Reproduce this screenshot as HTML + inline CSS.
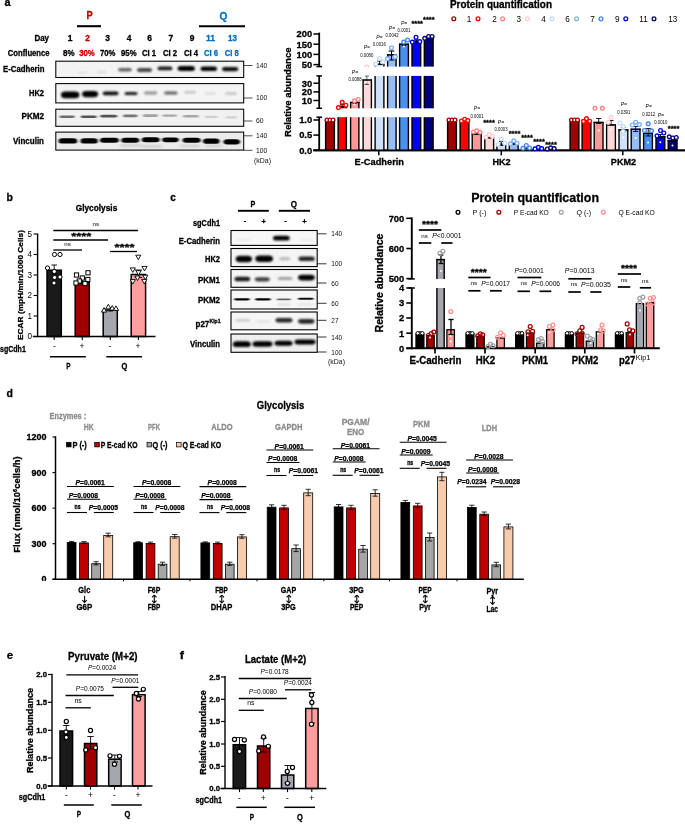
<!DOCTYPE html>
<html><head><meta charset="utf-8"><title>Figure</title>
<style>
html,body{margin:0;padding:0;background:#fff;}
body{width:685px;height:828px;overflow:hidden;font-family:"Liberation Sans",sans-serif;}
svg{display:block;font-family:"Liberation Sans",sans-serif;will-change:transform;}
</style></head><body>
<svg width="685" height="828" viewBox="0 0 685 828">
<defs>
<filter id="b1" x="-30%" y="-100%" width="160%" height="300%"><feGaussianBlur stdDeviation="1.3 0.8"/></filter>
<filter id="b2" x="-30%" y="-100%" width="160%" height="300%"><feGaussianBlur stdDeviation="0.9 0.45"/></filter>
<filter id="b3" x="-30%" y="-100%" width="160%" height="300%"><feGaussianBlur stdDeviation="1.4 1.0"/></filter>
<filter id="b4" x="-30%" y="-100%" width="160%" height="300%"><feGaussianBlur stdDeviation="1.0 0.6"/></filter>
</defs>
<rect x="0" y="0" width="685" height="828" fill="#ffffff"/>
<g id="panel-a">
<text x="4.4" y="6.2" font-size="11.5" text-anchor="start" fill="#000" font-weight="bold" stroke="#000" stroke-width="0.3" textLength="6" lengthAdjust="spacingAndGlyphs">a</text>
<text x="89.5" y="19.4" font-size="10.2" text-anchor="middle" fill="#c00000" font-weight="bold" stroke="#c00000" stroke-width="0.3" textLength="6.2" lengthAdjust="spacingAndGlyphs">P</text>
<line x1="77" y1="26.2" x2="101" y2="26.2" stroke="#000" stroke-width="2.1"/>
<text x="223.3" y="19.6" font-size="10.2" text-anchor="middle" fill="#0070c0" font-weight="bold" stroke="#0070c0" stroke-width="0.3" textLength="7.8" lengthAdjust="spacingAndGlyphs">Q</text>
<line x1="199" y1="26.2" x2="245" y2="26.2" stroke="#000" stroke-width="2.1"/>
<text x="49" y="40.6" font-size="8.8" text-anchor="end" fill="#000" font-weight="bold" stroke="#000" stroke-width="0.3" textLength="14.6" lengthAdjust="spacingAndGlyphs">Day</text>
<text x="70" y="40.6" font-size="8.4" text-anchor="middle" fill="#000" font-weight="bold" stroke="#000" stroke-width="0.3" textLength="4.7" lengthAdjust="spacingAndGlyphs">1</text>
<text x="87.5" y="40.6" font-size="8.4" text-anchor="middle" fill="#c00000" font-weight="bold" stroke="#c00000" stroke-width="0.3" textLength="4.7" lengthAdjust="spacingAndGlyphs">2</text>
<text x="107.5" y="40.6" font-size="8.4" text-anchor="middle" fill="#000" font-weight="bold" stroke="#000" stroke-width="0.3" textLength="4.7" lengthAdjust="spacingAndGlyphs">3</text>
<text x="129" y="40.6" font-size="8.4" text-anchor="middle" fill="#000" font-weight="bold" stroke="#000" stroke-width="0.3" textLength="4.7" lengthAdjust="spacingAndGlyphs">4</text>
<text x="149.5" y="40.6" font-size="8.4" text-anchor="middle" fill="#000" font-weight="bold" stroke="#000" stroke-width="0.3" textLength="4.7" lengthAdjust="spacingAndGlyphs">6</text>
<text x="170.8" y="40.6" font-size="8.4" text-anchor="middle" fill="#000" font-weight="bold" stroke="#000" stroke-width="0.3" textLength="4.7" lengthAdjust="spacingAndGlyphs">7</text>
<text x="192" y="40.6" font-size="8.4" text-anchor="middle" fill="#000" font-weight="bold" stroke="#000" stroke-width="0.3" textLength="4.7" lengthAdjust="spacingAndGlyphs">9</text>
<text x="210.5" y="40.6" font-size="8.4" text-anchor="middle" fill="#0070c0" font-weight="bold" stroke="#0070c0" stroke-width="0.3" textLength="9" lengthAdjust="spacingAndGlyphs">11</text>
<text x="232.5" y="40.6" font-size="8.4" text-anchor="middle" fill="#0070c0" font-weight="bold" stroke="#0070c0" stroke-width="0.3" textLength="9" lengthAdjust="spacingAndGlyphs">13</text>
<text x="49.6" y="56.1" font-size="8.8" text-anchor="end" fill="#000" font-weight="bold" stroke="#000" stroke-width="0.3" textLength="41.8" lengthAdjust="spacingAndGlyphs">Confluence</text>
<text x="68.8" y="56.1" font-size="8.4" text-anchor="middle" fill="#000" font-weight="bold" stroke="#000" stroke-width="0.3" textLength="11.5" lengthAdjust="spacingAndGlyphs">8%</text>
<text x="87" y="56.1" font-size="8.4" text-anchor="middle" fill="#c00000" font-weight="bold" stroke="#c00000" stroke-width="0.3" textLength="15.5" lengthAdjust="spacingAndGlyphs">30%</text>
<text x="107.7" y="56.1" font-size="8.4" text-anchor="middle" fill="#000" font-weight="bold" stroke="#000" stroke-width="0.3" textLength="15.5" lengthAdjust="spacingAndGlyphs">70%</text>
<text x="128.8" y="56.1" font-size="8.4" text-anchor="middle" fill="#000" font-weight="bold" stroke="#000" stroke-width="0.3" textLength="15.5" lengthAdjust="spacingAndGlyphs">95%</text>
<text x="149" y="56.1" font-size="8.4" text-anchor="middle" fill="#000" font-weight="bold" stroke="#000" stroke-width="0.3" textLength="14.2" lengthAdjust="spacingAndGlyphs">CI 1</text>
<text x="170" y="56.1" font-size="8.4" text-anchor="middle" fill="#000" font-weight="bold" stroke="#000" stroke-width="0.3" textLength="14.2" lengthAdjust="spacingAndGlyphs">CI 2</text>
<text x="191" y="56.1" font-size="8.4" text-anchor="middle" fill="#000" font-weight="bold" stroke="#000" stroke-width="0.3" textLength="14.2" lengthAdjust="spacingAndGlyphs">CI 4</text>
<text x="211" y="56.1" font-size="8.4" text-anchor="middle" fill="#0070c0" font-weight="bold" stroke="#0070c0" stroke-width="0.3" textLength="14.2" lengthAdjust="spacingAndGlyphs">CI 6</text>
<text x="231.8" y="56.1" font-size="8.4" text-anchor="middle" fill="#0070c0" font-weight="bold" stroke="#0070c0" stroke-width="0.3" textLength="14.2" lengthAdjust="spacingAndGlyphs">CI 8</text>
<rect x="55.8" y="61.2" width="187.9" height="16.3" fill="#f3f3f3"/>
<rect x="55.8" y="83.6" width="187.9" height="19.3" fill="#f4f4f4"/>
<rect x="55.8" y="109.2" width="187.9" height="17.1" fill="#f1f1f1"/>
<rect x="55.8" y="132.1" width="187.9" height="18" fill="#ebebeb"/>
<rect x="78" y="71.5" width="10" height="2.2" fill="#000" rx="1.54" ry="1.1" opacity="0.07" filter="url(#b1)"/>
<rect x="97" y="70.9" width="10" height="2.2" fill="#000" rx="1.54" ry="1.1" opacity="0.1" filter="url(#b1)"/>
<rect x="118" y="68.1" width="14" height="3.4" fill="#000" rx="2.38" ry="1.7" opacity="0.6" filter="url(#b1)"/>
<rect x="137" y="67.9" width="15" height="4.2" fill="#000" rx="2.94" ry="2.1" opacity="0.72" filter="url(#b1)"/>
<rect x="157.5" y="66.5" width="15" height="3.8" fill="#000" rx="2.66" ry="1.9" opacity="0.9" filter="url(#b1)"/>
<rect x="177.5" y="66.1" width="17.5" height="5" fill="#000" rx="3.5" ry="2.5" opacity="1" filter="url(#b1)"/>
<rect x="200.5" y="66.5" width="16.5" height="4.6" fill="#000" rx="3.22" ry="2.3" opacity="1" filter="url(#b1)"/>
<rect x="222" y="67" width="16.3" height="4.2" fill="#000" rx="2.94" ry="2.1" opacity="0.95" filter="url(#b1)"/>
<rect x="61" y="91.6" width="18.4" height="6.6" fill="#000" rx="4.62" ry="3.3" opacity="1" filter="url(#b1)"/>
<rect x="82" y="91" width="16.2" height="6.2" fill="#000" rx="4.34" ry="3.1" opacity="1" filter="url(#b1)"/>
<rect x="102.6" y="91.6" width="16" height="3.6" fill="#000" rx="2.52" ry="1.8" opacity="0.95" filter="url(#b1)"/>
<rect x="124.5" y="91.9" width="13.1" height="3" fill="#000" rx="2.1" ry="1.5" opacity="0.9" filter="url(#b1)"/>
<rect x="144" y="91.6" width="13.4" height="2.8" fill="#000" rx="1.96" ry="1.4" opacity="0.4" filter="url(#b1)"/>
<rect x="164" y="91.5" width="13.6" height="3" fill="#000" rx="2.1" ry="1.5" opacity="0.6" filter="url(#b1)"/>
<rect x="184.3" y="91.1" width="11.7" height="2.4" fill="#000" rx="1.68" ry="1.2" opacity="0.2" filter="url(#b1)"/>
<rect x="204.7" y="92.4" width="11.1" height="2.2" fill="#000" rx="1.54" ry="1.1" opacity="0.12" filter="url(#b1)"/>
<rect x="225.2" y="92.3" width="11.8" height="2.4" fill="#000" rx="1.68" ry="1.2" opacity="0.2" filter="url(#b1)"/>
<rect x="59.5" y="115.6" width="15.3" height="2.4" fill="#000" rx="1.68" ry="1.2" opacity="0.55" filter="url(#b2)"/>
<rect x="80.7" y="115.5" width="16" height="2.6" fill="#000" rx="1.82" ry="1.3" opacity="0.65" filter="url(#b2)"/>
<rect x="100.2" y="114.8" width="17" height="2.8" fill="#000" rx="1.96" ry="1.4" opacity="0.65" filter="url(#b2)"/>
<rect x="123" y="114.6" width="14.6" height="2.6" fill="#000" rx="1.82" ry="1.3" opacity="0.5" filter="url(#b2)"/>
<rect x="142.8" y="114.3" width="15.2" height="2.6" fill="#000" rx="1.82" ry="1.3" opacity="0.33" filter="url(#b2)"/>
<rect x="162.4" y="114.4" width="14.6" height="2.4" fill="#000" rx="1.68" ry="1.2" opacity="0.3" filter="url(#b2)"/>
<rect x="182.8" y="114.9" width="16.2" height="2.6" fill="#000" rx="1.82" ry="1.3" opacity="0.3" filter="url(#b2)"/>
<rect x="204.7" y="115.7" width="13.3" height="2.2" fill="#000" rx="1.54" ry="1.1" opacity="0.14" filter="url(#b2)"/>
<rect x="225.2" y="116.2" width="11.8" height="2.2" fill="#000" rx="1.54" ry="1.1" opacity="0.12" filter="url(#b2)"/>
<rect x="58.6" y="138.3" width="18.6" height="5.2" fill="#000" rx="3.64" ry="2.6" opacity="1" filter="url(#b4)"/>
<rect x="80.5" y="138.3" width="17.3" height="5.2" fill="#000" rx="3.64" ry="2.6" opacity="1" filter="url(#b4)"/>
<rect x="100" y="137.8" width="18.8" height="5" fill="#000" rx="3.5" ry="2.5" opacity="1" filter="url(#b4)"/>
<rect x="121.3" y="137.8" width="17.9" height="5" fill="#000" rx="3.5" ry="2.5" opacity="1" filter="url(#b4)"/>
<rect x="141.8" y="137.3" width="17.9" height="5" fill="#000" rx="3.5" ry="2.5" opacity="1" filter="url(#b4)"/>
<rect x="162.2" y="137.4" width="16.5" height="4.8" fill="#000" rx="3.36" ry="2.4" opacity="1" filter="url(#b4)"/>
<rect x="182.6" y="137.8" width="18" height="5" fill="#000" rx="3.5" ry="2.5" opacity="1" filter="url(#b4)"/>
<rect x="203.1" y="138.6" width="16.4" height="5.2" fill="#000" rx="3.64" ry="2.6" opacity="1" filter="url(#b4)"/>
<rect x="223.5" y="139.2" width="16.5" height="5.2" fill="#000" rx="3.64" ry="2.6" opacity="1" filter="url(#b4)"/>
<rect x="120" y="144.25" width="22" height="2.5" fill="#000" rx="1.75" ry="1.25" opacity="0.12" filter="url(#b3)"/>
<rect x="141" y="145.25" width="21" height="2.5" fill="#000" rx="1.75" ry="1.25" opacity="0.12" filter="url(#b3)"/>
<rect x="180" y="144.75" width="20" height="2.5" fill="#000" rx="1.75" ry="1.25" opacity="0.12" filter="url(#b3)"/>
<rect x="205" y="144.75" width="17" height="2.5" fill="#000" rx="1.75" ry="1.25" opacity="0.12" filter="url(#b3)"/>
<rect x="55.8" y="61.2" width="187.9" height="16.3" fill="none" stroke="#000" stroke-width="1.05"/>
<rect x="55.8" y="83.6" width="187.9" height="19.3" fill="none" stroke="#000" stroke-width="1.05"/>
<rect x="55.8" y="109.2" width="187.9" height="17.1" fill="none" stroke="#000" stroke-width="1.05"/>
<rect x="55.8" y="132.1" width="187.9" height="18" fill="none" stroke="#000" stroke-width="1.05"/>
<text x="44.5" y="72.2" font-size="8.8" text-anchor="end" fill="#000" font-weight="bold" stroke="#000" stroke-width="0.3" textLength="41.5" lengthAdjust="spacingAndGlyphs">E-Cadherin</text>
<text x="44" y="95.8" font-size="8.6" text-anchor="end" fill="#000" font-weight="bold" stroke="#000" stroke-width="0.3" textLength="15" lengthAdjust="spacingAndGlyphs">HK2</text>
<text x="44" y="119.3" font-size="8.6" text-anchor="end" fill="#000" font-weight="bold" stroke="#000" stroke-width="0.3" textLength="22.5" lengthAdjust="spacingAndGlyphs">PKM2</text>
<text x="44" y="144.2" font-size="8.8" text-anchor="end" fill="#000" font-weight="bold" stroke="#000" stroke-width="0.3" textLength="31" lengthAdjust="spacingAndGlyphs">Vinculin</text>
<line x1="243.7" y1="65.5" x2="252.5" y2="65.5" stroke="#222" stroke-width="0.8"/>
<text x="256" y="67.9" font-size="6.7" text-anchor="start" fill="#111" textLength="11.3" lengthAdjust="spacingAndGlyphs">140</text>
<line x1="243.7" y1="98" x2="252.5" y2="98" stroke="#222" stroke-width="0.8"/>
<text x="256" y="100.4" font-size="6.7" text-anchor="start" fill="#111" textLength="11.3" lengthAdjust="spacingAndGlyphs">100</text>
<line x1="243.7" y1="121" x2="252.5" y2="121" stroke="#222" stroke-width="0.8"/>
<text x="256" y="123.4" font-size="6.7" text-anchor="start" fill="#111" textLength="7.6" lengthAdjust="spacingAndGlyphs">60</text>
<line x1="243.7" y1="135.8" x2="252.5" y2="135.8" stroke="#222" stroke-width="0.8"/>
<text x="256" y="138.2" font-size="6.7" text-anchor="start" fill="#111" textLength="11.3" lengthAdjust="spacingAndGlyphs">140</text>
<line x1="243.7" y1="150.3" x2="252.5" y2="150.3" stroke="#222" stroke-width="0.8"/>
<text x="256" y="152.7" font-size="6.7" text-anchor="start" fill="#111" textLength="11.3" lengthAdjust="spacingAndGlyphs">100</text>
<text x="254" y="162.8" font-size="6.7" text-anchor="start" fill="#111" textLength="17" lengthAdjust="spacingAndGlyphs">(kDa)</text>
</g>
<g id="chart-a">
<text x="450" y="8.3" font-size="10" text-anchor="start" fill="#000" font-weight="bold" stroke="#000" stroke-width="0.3" textLength="102" lengthAdjust="spacingAndGlyphs">Protein quantification</text>
<circle cx="453.8" cy="18.8" r="1.9" fill="none" stroke="#a00000" stroke-width="1.3"/>
<text x="469" y="21.8" font-size="8.2" text-anchor="middle" fill="#000">1</text>
<circle cx="478" cy="18.8" r="1.9" fill="none" stroke="#ff0000" stroke-width="1.3"/>
<text x="494.5" y="21.8" font-size="8.2" text-anchor="middle" fill="#000">2</text>
<circle cx="502.6" cy="18.8" r="1.9" fill="none" stroke="#ff8080" stroke-width="1.3"/>
<text x="518.8" y="21.8" font-size="8.2" text-anchor="middle" fill="#000">3</text>
<circle cx="527.4" cy="18.8" r="1.9" fill="none" stroke="#ffcccc" stroke-width="1.3"/>
<text x="543.6" y="21.8" font-size="8.2" text-anchor="middle" fill="#000">4</text>
<circle cx="552" cy="18.8" r="1.9" fill="none" stroke="#c4daf8" stroke-width="1.3"/>
<text x="567.6" y="21.8" font-size="8.2" text-anchor="middle" fill="#000">6</text>
<circle cx="576.6" cy="18.8" r="1.9" fill="none" stroke="#7fb0f5" stroke-width="1.3"/>
<text x="592.6" y="21.8" font-size="8.2" text-anchor="middle" fill="#000">7</text>
<circle cx="601" cy="18.8" r="1.9" fill="none" stroke="#3d88ee" stroke-width="1.3"/>
<text x="617.3" y="21.8" font-size="8.2" text-anchor="middle" fill="#000">9</text>
<circle cx="625.8" cy="18.8" r="1.9" fill="none" stroke="#0000e0" stroke-width="1.3"/>
<text x="643.5" y="21.8" font-size="8.2" text-anchor="middle" fill="#000">11</text>
<circle cx="654" cy="18.8" r="1.9" fill="none" stroke="#000080" stroke-width="1.3"/>
<text x="672.8" y="21.8" font-size="8.2" text-anchor="middle" fill="#000">13</text>
<line x1="319.2" y1="32.6" x2="319.2" y2="66.6" stroke="#000" stroke-width="1.8"/>
<line x1="319.2" y1="75.9" x2="319.2" y2="108.3" stroke="#000" stroke-width="1.8"/>
<line x1="319.2" y1="117.2" x2="319.2" y2="150.3" stroke="#000" stroke-width="1.8"/>
<line x1="316.4" y1="66.6" x2="322" y2="66.6" stroke="#000" stroke-width="1.5"/>
<line x1="316.4" y1="75.9" x2="322" y2="75.9" stroke="#000" stroke-width="1.5"/>
<line x1="316.4" y1="108.3" x2="322" y2="108.3" stroke="#000" stroke-width="1.5"/>
<line x1="316.4" y1="117.2" x2="322" y2="117.2" stroke="#000" stroke-width="1.5"/>
<line x1="313.4" y1="34" x2="319.2" y2="34" stroke="#000" stroke-width="1.5"/>
<text x="312.2" y="37.3" font-size="9.4" text-anchor="end" fill="#000" font-weight="bold" stroke="#000" stroke-width="0.3">200</text>
<line x1="313.4" y1="44.2" x2="319.2" y2="44.2" stroke="#000" stroke-width="1.5"/>
<text x="312.2" y="47.5" font-size="9.4" text-anchor="end" fill="#000" font-weight="bold" stroke="#000" stroke-width="0.3">150</text>
<line x1="313.4" y1="54.4" x2="319.2" y2="54.4" stroke="#000" stroke-width="1.5"/>
<text x="312.2" y="57.7" font-size="9.4" text-anchor="end" fill="#000" font-weight="bold" stroke="#000" stroke-width="0.3">100</text>
<line x1="313.4" y1="64.6" x2="319.2" y2="64.6" stroke="#000" stroke-width="1.5"/>
<text x="312.2" y="67.9" font-size="9.4" text-anchor="end" fill="#000" font-weight="bold" stroke="#000" stroke-width="0.3">50</text>
<line x1="313.4" y1="83.2" x2="319.2" y2="83.2" stroke="#000" stroke-width="1.5"/>
<text x="312.2" y="86.5" font-size="9.4" text-anchor="end" fill="#000" font-weight="bold" stroke="#000" stroke-width="0.3">30</text>
<line x1="313.4" y1="91.9" x2="319.2" y2="91.9" stroke="#000" stroke-width="1.5"/>
<text x="312.2" y="95.2" font-size="9.4" text-anchor="end" fill="#000" font-weight="bold" stroke="#000" stroke-width="0.3">20</text>
<line x1="313.4" y1="100.5" x2="319.2" y2="100.5" stroke="#000" stroke-width="1.5"/>
<text x="312.2" y="103.8" font-size="9.4" text-anchor="end" fill="#000" font-weight="bold" stroke="#000" stroke-width="0.3">10</text>
<line x1="313.4" y1="120" x2="319.2" y2="120" stroke="#000" stroke-width="1.5"/>
<text x="312.2" y="123.3" font-size="9.4" text-anchor="end" fill="#000" font-weight="bold" stroke="#000" stroke-width="0.3">1.0</text>
<line x1="313.4" y1="135.1" x2="319.2" y2="135.1" stroke="#000" stroke-width="1.5"/>
<text x="312.2" y="138.4" font-size="9.4" text-anchor="end" fill="#000" font-weight="bold" stroke="#000" stroke-width="0.3">0.5</text>
<line x1="313.4" y1="150.3" x2="319.2" y2="150.3" stroke="#000" stroke-width="1.5"/>
<text x="312.2" y="153.6" font-size="9.4" text-anchor="end" fill="#000" font-weight="bold" stroke="#000" stroke-width="0.3">0.0</text>
<line x1="313.4" y1="150.3" x2="685" y2="150.3" stroke="#000" stroke-width="1.8"/>
<text x="291.2" y="92.2" font-size="9.9" text-anchor="middle" fill="#000" font-weight="bold" stroke="#000" stroke-width="0.3" textLength="89.5" lengthAdjust="spacingAndGlyphs" transform="rotate(-90 291.2 92.2)">Relative abundance</text>
<rect x="325.5" y="120" width="9" height="30.3" fill="#a00000"/>
<line x1="325.6" y1="120" x2="325.6" y2="150.3" stroke="#000" stroke-width="1.4"/>
<line x1="334.4" y1="120" x2="334.4" y2="150.3" stroke="#000" stroke-width="1.4"/>
<line x1="325" y1="120.4" x2="335" y2="120.4" stroke="#000" stroke-width="1.5"/>
<rect x="338" y="117.2" width="8.5" height="33.1" fill="#ff0000"/>
<line x1="338.1" y1="117.2" x2="338.1" y2="150.3" stroke="#000" stroke-width="1.4"/>
<line x1="346.4" y1="117.2" x2="346.4" y2="150.3" stroke="#000" stroke-width="1.4"/>
<rect x="338" y="106" width="8.5" height="2.3" fill="#ff0000"/>
<line x1="338.1" y1="106" x2="338.1" y2="108.3" stroke="#000" stroke-width="1.4"/>
<line x1="346.4" y1="106" x2="346.4" y2="108.3" stroke="#000" stroke-width="1.4"/>
<line x1="337.5" y1="106.4" x2="347" y2="106.4" stroke="#000" stroke-width="1.5"/>
<rect x="350.5" y="117.2" width="8.5" height="33.1" fill="#ff9999"/>
<line x1="350.6" y1="117.2" x2="350.6" y2="150.3" stroke="#000" stroke-width="1.4"/>
<line x1="358.9" y1="117.2" x2="358.9" y2="150.3" stroke="#000" stroke-width="1.4"/>
<rect x="350.5" y="102" width="8.5" height="6.3" fill="#ff9999"/>
<line x1="350.6" y1="102" x2="350.6" y2="108.3" stroke="#000" stroke-width="1.4"/>
<line x1="358.9" y1="102" x2="358.9" y2="108.3" stroke="#000" stroke-width="1.4"/>
<line x1="350" y1="102.4" x2="359.5" y2="102.4" stroke="#000" stroke-width="1.5"/>
<rect x="363" y="117.2" width="8.5" height="33.1" fill="#ffd9d9"/>
<line x1="363.1" y1="117.2" x2="363.1" y2="150.3" stroke="#000" stroke-width="1.4"/>
<line x1="371.4" y1="117.2" x2="371.4" y2="150.3" stroke="#000" stroke-width="1.4"/>
<rect x="363" y="79.6" width="8.5" height="28.7" fill="#ffd9d9"/>
<line x1="363.1" y1="79.6" x2="363.1" y2="108.3" stroke="#000" stroke-width="1.4"/>
<line x1="371.4" y1="79.6" x2="371.4" y2="108.3" stroke="#000" stroke-width="1.4"/>
<line x1="362.5" y1="80" x2="372" y2="80" stroke="#000" stroke-width="1.5"/>
<rect x="375" y="117.2" width="9" height="33.1" fill="#cfe0fb"/>
<line x1="375.1" y1="117.2" x2="375.1" y2="150.3" stroke="#000" stroke-width="1.4"/>
<line x1="383.9" y1="117.2" x2="383.9" y2="150.3" stroke="#000" stroke-width="1.4"/>
<rect x="375" y="75.9" width="9" height="32.4" fill="#cfe0fb"/>
<line x1="375.1" y1="75.9" x2="375.1" y2="108.3" stroke="#000" stroke-width="1.4"/>
<line x1="383.9" y1="75.9" x2="383.9" y2="108.3" stroke="#000" stroke-width="1.4"/>
<rect x="375" y="63.8" width="9" height="2.8" fill="#cfe0fb"/>
<line x1="375.1" y1="63.8" x2="375.1" y2="66.6" stroke="#000" stroke-width="1.4"/>
<line x1="383.9" y1="63.8" x2="383.9" y2="66.6" stroke="#000" stroke-width="1.4"/>
<line x1="374.5" y1="64.2" x2="384.5" y2="64.2" stroke="#000" stroke-width="1.5"/>
<rect x="387.5" y="117.2" width="8.7" height="33.1" fill="#96bdf8"/>
<line x1="387.6" y1="117.2" x2="387.6" y2="150.3" stroke="#000" stroke-width="1.4"/>
<line x1="396.1" y1="117.2" x2="396.1" y2="150.3" stroke="#000" stroke-width="1.4"/>
<rect x="387.5" y="75.9" width="8.7" height="32.4" fill="#96bdf8"/>
<line x1="387.6" y1="75.9" x2="387.6" y2="108.3" stroke="#000" stroke-width="1.4"/>
<line x1="396.1" y1="75.9" x2="396.1" y2="108.3" stroke="#000" stroke-width="1.4"/>
<rect x="387.5" y="54.5" width="8.7" height="12.1" fill="#96bdf8"/>
<line x1="387.6" y1="54.5" x2="387.6" y2="66.6" stroke="#000" stroke-width="1.4"/>
<line x1="396.1" y1="54.5" x2="396.1" y2="66.6" stroke="#000" stroke-width="1.4"/>
<line x1="387" y1="54.9" x2="396.7" y2="54.9" stroke="#000" stroke-width="1.5"/>
<rect x="399.5" y="117.2" width="9" height="33.1" fill="#4a90f0"/>
<line x1="399.6" y1="117.2" x2="399.6" y2="150.3" stroke="#000" stroke-width="1.4"/>
<line x1="408.4" y1="117.2" x2="408.4" y2="150.3" stroke="#000" stroke-width="1.4"/>
<rect x="399.5" y="75.9" width="9" height="32.4" fill="#4a90f0"/>
<line x1="399.6" y1="75.9" x2="399.6" y2="108.3" stroke="#000" stroke-width="1.4"/>
<line x1="408.4" y1="75.9" x2="408.4" y2="108.3" stroke="#000" stroke-width="1.4"/>
<rect x="399.5" y="43.8" width="9" height="22.8" fill="#4a90f0"/>
<line x1="399.6" y1="43.8" x2="399.6" y2="66.6" stroke="#000" stroke-width="1.4"/>
<line x1="408.4" y1="43.8" x2="408.4" y2="66.6" stroke="#000" stroke-width="1.4"/>
<line x1="399" y1="44.2" x2="409" y2="44.2" stroke="#000" stroke-width="1.5"/>
<rect x="411.9" y="117.2" width="8.9" height="33.1" fill="#0000ff"/>
<line x1="412" y1="117.2" x2="412" y2="150.3" stroke="#000" stroke-width="1.4"/>
<line x1="420.7" y1="117.2" x2="420.7" y2="150.3" stroke="#000" stroke-width="1.4"/>
<rect x="411.9" y="75.9" width="8.9" height="32.4" fill="#0000ff"/>
<line x1="412" y1="75.9" x2="412" y2="108.3" stroke="#000" stroke-width="1.4"/>
<line x1="420.7" y1="75.9" x2="420.7" y2="108.3" stroke="#000" stroke-width="1.4"/>
<rect x="411.9" y="40.8" width="8.9" height="25.8" fill="#0000ff"/>
<line x1="412" y1="40.8" x2="412" y2="66.6" stroke="#000" stroke-width="1.4"/>
<line x1="420.7" y1="40.8" x2="420.7" y2="66.6" stroke="#000" stroke-width="1.4"/>
<line x1="411.4" y1="41.2" x2="421.3" y2="41.2" stroke="#000" stroke-width="1.5"/>
<rect x="424.2" y="117.2" width="9" height="33.1" fill="#00007a"/>
<line x1="424.3" y1="117.2" x2="424.3" y2="150.3" stroke="#000" stroke-width="1.4"/>
<line x1="433.1" y1="117.2" x2="433.1" y2="150.3" stroke="#000" stroke-width="1.4"/>
<rect x="424.2" y="75.9" width="9" height="32.4" fill="#00007a"/>
<line x1="424.3" y1="75.9" x2="424.3" y2="108.3" stroke="#000" stroke-width="1.4"/>
<line x1="433.1" y1="75.9" x2="433.1" y2="108.3" stroke="#000" stroke-width="1.4"/>
<rect x="424.2" y="38" width="9" height="28.6" fill="#00007a"/>
<line x1="424.3" y1="38" x2="424.3" y2="66.6" stroke="#000" stroke-width="1.4"/>
<line x1="433.1" y1="38" x2="433.1" y2="66.6" stroke="#000" stroke-width="1.4"/>
<line x1="423.7" y1="38.4" x2="433.7" y2="38.4" stroke="#000" stroke-width="1.5"/>
<rect x="447.5" y="120" width="9" height="30.3" fill="#a00000"/>
<line x1="447.6" y1="120" x2="447.6" y2="150.3" stroke="#000" stroke-width="1.4"/>
<line x1="456.4" y1="120" x2="456.4" y2="150.3" stroke="#000" stroke-width="1.4"/>
<line x1="447" y1="120.4" x2="457" y2="120.4" stroke="#000" stroke-width="1.5"/>
<rect x="460" y="120" width="9" height="30.3" fill="#ff0000"/>
<line x1="460.1" y1="120" x2="460.1" y2="150.3" stroke="#000" stroke-width="1.4"/>
<line x1="468.9" y1="120" x2="468.9" y2="150.3" stroke="#000" stroke-width="1.4"/>
<line x1="459.5" y1="120.4" x2="469.5" y2="120.4" stroke="#000" stroke-width="1.5"/>
<rect x="472.1" y="133.8" width="9.2" height="16.5" fill="#ff9999"/>
<line x1="472.2" y1="133.8" x2="472.2" y2="150.3" stroke="#000" stroke-width="1.4"/>
<line x1="481.2" y1="133.8" x2="481.2" y2="150.3" stroke="#000" stroke-width="1.4"/>
<line x1="471.6" y1="134.2" x2="481.8" y2="134.2" stroke="#000" stroke-width="1.5"/>
<rect x="484.7" y="137" width="9" height="13.3" fill="#ffd9d9"/>
<line x1="484.8" y1="137" x2="484.8" y2="150.3" stroke="#000" stroke-width="1.4"/>
<line x1="493.6" y1="137" x2="493.6" y2="150.3" stroke="#000" stroke-width="1.4"/>
<line x1="484.2" y1="137.4" x2="494.2" y2="137.4" stroke="#000" stroke-width="1.5"/>
<rect x="496.8" y="143.8" width="9" height="6.5" fill="#cfe0fb"/>
<line x1="496.9" y1="143.8" x2="496.9" y2="150.3" stroke="#000" stroke-width="1.4"/>
<line x1="505.7" y1="143.8" x2="505.7" y2="150.3" stroke="#000" stroke-width="1.4"/>
<line x1="496.3" y1="144.2" x2="506.3" y2="144.2" stroke="#000" stroke-width="1.5"/>
<rect x="509.2" y="143.3" width="9" height="7" fill="#96bdf8"/>
<line x1="509.3" y1="143.3" x2="509.3" y2="150.3" stroke="#000" stroke-width="1.4"/>
<line x1="518.1" y1="143.3" x2="518.1" y2="150.3" stroke="#000" stroke-width="1.4"/>
<line x1="508.7" y1="143.7" x2="518.7" y2="143.7" stroke="#000" stroke-width="1.5"/>
<rect x="521.7" y="147.5" width="9" height="2.8" fill="#4a90f0"/>
<line x1="521.8" y1="147.5" x2="521.8" y2="150.3" stroke="#000" stroke-width="1.4"/>
<line x1="530.6" y1="147.5" x2="530.6" y2="150.3" stroke="#000" stroke-width="1.4"/>
<line x1="521.2" y1="147.9" x2="531.2" y2="147.9" stroke="#000" stroke-width="1.5"/>
<rect x="533.8" y="148.5" width="9" height="1.8" fill="#0000ff"/>
<line x1="533.9" y1="148.5" x2="533.9" y2="150.3" stroke="#000" stroke-width="1.4"/>
<line x1="542.7" y1="148.5" x2="542.7" y2="150.3" stroke="#000" stroke-width="1.4"/>
<line x1="533.3" y1="148.9" x2="543.3" y2="148.9" stroke="#000" stroke-width="1.5"/>
<rect x="546.2" y="148.5" width="9" height="1.8" fill="#00007a"/>
<line x1="546.3" y1="148.5" x2="546.3" y2="150.3" stroke="#000" stroke-width="1.4"/>
<line x1="555.1" y1="148.5" x2="555.1" y2="150.3" stroke="#000" stroke-width="1.4"/>
<line x1="545.7" y1="148.9" x2="555.7" y2="148.9" stroke="#000" stroke-width="1.5"/>
<rect x="570" y="120" width="9" height="30.3" fill="#a00000"/>
<line x1="570.1" y1="120" x2="570.1" y2="150.3" stroke="#000" stroke-width="1.4"/>
<line x1="578.9" y1="120" x2="578.9" y2="150.3" stroke="#000" stroke-width="1.4"/>
<line x1="569.5" y1="120.4" x2="579.5" y2="120.4" stroke="#000" stroke-width="1.5"/>
<rect x="582" y="120" width="9" height="30.3" fill="#ff0000"/>
<line x1="582.1" y1="120" x2="582.1" y2="150.3" stroke="#000" stroke-width="1.4"/>
<line x1="590.9" y1="120" x2="590.9" y2="150.3" stroke="#000" stroke-width="1.4"/>
<line x1="581.5" y1="120.4" x2="591.5" y2="120.4" stroke="#000" stroke-width="1.5"/>
<rect x="594.1" y="122" width="9" height="28.3" fill="#ff9999"/>
<line x1="594.2" y1="122" x2="594.2" y2="150.3" stroke="#000" stroke-width="1.4"/>
<line x1="603" y1="122" x2="603" y2="150.3" stroke="#000" stroke-width="1.4"/>
<line x1="593.6" y1="122.4" x2="603.6" y2="122.4" stroke="#000" stroke-width="1.5"/>
<rect x="606.5" y="124.5" width="9" height="25.8" fill="#ffd9d9"/>
<line x1="606.6" y1="124.5" x2="606.6" y2="150.3" stroke="#000" stroke-width="1.4"/>
<line x1="615.4" y1="124.5" x2="615.4" y2="150.3" stroke="#000" stroke-width="1.4"/>
<line x1="606" y1="124.9" x2="616" y2="124.9" stroke="#000" stroke-width="1.5"/>
<rect x="618.9" y="129.5" width="9" height="20.8" fill="#cfe0fb"/>
<line x1="619" y1="129.5" x2="619" y2="150.3" stroke="#000" stroke-width="1.4"/>
<line x1="627.8" y1="129.5" x2="627.8" y2="150.3" stroke="#000" stroke-width="1.4"/>
<line x1="618.4" y1="129.9" x2="628.4" y2="129.9" stroke="#000" stroke-width="1.5"/>
<rect x="631.1" y="128.8" width="9" height="21.5" fill="#96bdf8"/>
<line x1="631.2" y1="128.8" x2="631.2" y2="150.3" stroke="#000" stroke-width="1.4"/>
<line x1="640" y1="128.8" x2="640" y2="150.3" stroke="#000" stroke-width="1.4"/>
<line x1="630.6" y1="129.2" x2="640.6" y2="129.2" stroke="#000" stroke-width="1.5"/>
<rect x="643.5" y="133" width="9" height="17.3" fill="#4a90f0"/>
<line x1="643.6" y1="133" x2="643.6" y2="150.3" stroke="#000" stroke-width="1.4"/>
<line x1="652.4" y1="133" x2="652.4" y2="150.3" stroke="#000" stroke-width="1.4"/>
<line x1="643" y1="133.4" x2="653" y2="133.4" stroke="#000" stroke-width="1.5"/>
<rect x="655.9" y="136.3" width="9" height="14" fill="#0000ff"/>
<line x1="656" y1="136.3" x2="656" y2="150.3" stroke="#000" stroke-width="1.4"/>
<line x1="664.8" y1="136.3" x2="664.8" y2="150.3" stroke="#000" stroke-width="1.4"/>
<line x1="655.4" y1="136.7" x2="665.4" y2="136.7" stroke="#000" stroke-width="1.5"/>
<rect x="668.1" y="140" width="9" height="10.3" fill="#00007a"/>
<line x1="668.2" y1="140" x2="668.2" y2="150.3" stroke="#000" stroke-width="1.4"/>
<line x1="677" y1="140" x2="677" y2="150.3" stroke="#000" stroke-width="1.4"/>
<line x1="667.6" y1="140.4" x2="677.6" y2="140.4" stroke="#000" stroke-width="1.5"/>
<line x1="313.4" y1="150.3" x2="685" y2="150.3" stroke="#000" stroke-width="1.8"/>
<line x1="378.8" y1="150.3" x2="378.8" y2="155.3" stroke="#000" stroke-width="1.5"/>
<line x1="501.3" y1="150.3" x2="501.3" y2="155.3" stroke="#000" stroke-width="1.5"/>
<line x1="622.8" y1="150.3" x2="622.8" y2="155.3" stroke="#000" stroke-width="1.5"/>
<text x="379.3" y="164.5" font-size="9.6" text-anchor="middle" fill="#000" font-weight="bold" stroke="#000" stroke-width="0.3" textLength="49.4" lengthAdjust="spacingAndGlyphs">E-Cadherin</text>
<text x="501.5" y="164.5" font-size="9.6" text-anchor="middle" fill="#000" font-weight="bold" stroke="#000" stroke-width="0.3" textLength="18.2" lengthAdjust="spacingAndGlyphs">HK2</text>
<text x="623.5" y="164.5" font-size="9.6" text-anchor="middle" fill="#000" font-weight="bold" stroke="#000" stroke-width="0.3" textLength="25.3" lengthAdjust="spacingAndGlyphs">PKM2</text>
<line x1="342.2" y1="104.5" x2="342.2" y2="107.5" stroke="#000" stroke-width="0.9"/>
<line x1="340" y1="104.5" x2="344.4" y2="104.5" stroke="#000" stroke-width="0.9"/>
<line x1="340" y1="107.5" x2="344.4" y2="107.5" stroke="#000" stroke-width="0.9"/>
<line x1="354.7" y1="101" x2="354.7" y2="103.2" stroke="#000" stroke-width="0.9"/>
<line x1="352.5" y1="101" x2="356.9" y2="101" stroke="#000" stroke-width="0.9"/>
<line x1="352.5" y1="103.2" x2="356.9" y2="103.2" stroke="#000" stroke-width="0.9"/>
<line x1="366.8" y1="76" x2="366.8" y2="84.5" stroke="#000" stroke-width="0.6"/>
<line x1="364.6" y1="76" x2="369" y2="76" stroke="#000" stroke-width="0.6"/>
<line x1="364.6" y1="84.5" x2="369" y2="84.5" stroke="#000" stroke-width="0.6"/>
<line x1="379.5" y1="61" x2="379.5" y2="64.5" stroke="#000" stroke-width="0.9"/>
<line x1="377.3" y1="61" x2="381.7" y2="61" stroke="#000" stroke-width="0.9"/>
<line x1="377.3" y1="64.5" x2="381.7" y2="64.5" stroke="#000" stroke-width="0.9"/>
<line x1="391.5" y1="51" x2="391.5" y2="60" stroke="#000" stroke-width="1.1"/>
<line x1="388.7" y1="51" x2="394.3" y2="51" stroke="#000" stroke-width="1.1"/>
<line x1="388.7" y1="60" x2="394.3" y2="60" stroke="#000" stroke-width="1.1"/>
<line x1="404" y1="42" x2="404" y2="45.5" stroke="#000" stroke-width="0.9"/>
<line x1="401.8" y1="42" x2="406.2" y2="42" stroke="#000" stroke-width="0.9"/>
<line x1="401.8" y1="45.5" x2="406.2" y2="45.5" stroke="#000" stroke-width="0.9"/>
<line x1="416.3" y1="39.8" x2="416.3" y2="43" stroke="#000" stroke-width="0.9"/>
<line x1="414.1" y1="39.8" x2="418.5" y2="39.8" stroke="#000" stroke-width="0.9"/>
<line x1="414.1" y1="43" x2="418.5" y2="43" stroke="#000" stroke-width="0.9"/>
<line x1="428.7" y1="37.3" x2="428.7" y2="39.6" stroke="#000" stroke-width="0.9"/>
<line x1="426.5" y1="37.3" x2="430.9" y2="37.3" stroke="#000" stroke-width="0.9"/>
<line x1="426.5" y1="39.6" x2="430.9" y2="39.6" stroke="#000" stroke-width="0.9"/>
<line x1="476.7" y1="132.5" x2="476.7" y2="134.5" stroke="#000" stroke-width="0.9"/>
<line x1="474.5" y1="132.5" x2="478.9" y2="132.5" stroke="#000" stroke-width="0.9"/>
<line x1="474.5" y1="134.5" x2="478.9" y2="134.5" stroke="#000" stroke-width="0.9"/>
<line x1="489.3" y1="136" x2="489.3" y2="138.2" stroke="#000" stroke-width="0.9"/>
<line x1="487.1" y1="136" x2="491.5" y2="136" stroke="#000" stroke-width="0.9"/>
<line x1="487.1" y1="138.2" x2="491.5" y2="138.2" stroke="#000" stroke-width="0.9"/>
<line x1="501.3" y1="141.5" x2="501.3" y2="145.5" stroke="#000" stroke-width="0.9"/>
<line x1="499.1" y1="141.5" x2="503.5" y2="141.5" stroke="#000" stroke-width="0.9"/>
<line x1="499.1" y1="145.5" x2="503.5" y2="145.5" stroke="#000" stroke-width="0.9"/>
<line x1="513.8" y1="142" x2="513.8" y2="144.5" stroke="#000" stroke-width="0.9"/>
<line x1="511.6" y1="142" x2="516" y2="142" stroke="#000" stroke-width="0.9"/>
<line x1="511.6" y1="144.5" x2="516" y2="144.5" stroke="#000" stroke-width="0.9"/>
<line x1="598.7" y1="118.5" x2="598.7" y2="123.5" stroke="#000" stroke-width="0.9"/>
<line x1="596.1" y1="118.5" x2="601.3" y2="118.5" stroke="#000" stroke-width="0.9"/>
<line x1="596.1" y1="123.5" x2="601.3" y2="123.5" stroke="#000" stroke-width="0.9"/>
<line x1="611" y1="120.5" x2="611" y2="125" stroke="#000" stroke-width="0.9"/>
<line x1="608.4" y1="120.5" x2="613.6" y2="120.5" stroke="#000" stroke-width="0.9"/>
<line x1="608.4" y1="125" x2="613.6" y2="125" stroke="#000" stroke-width="0.9"/>
<line x1="623.5" y1="127.5" x2="623.5" y2="131.5" stroke="#000" stroke-width="0.9"/>
<line x1="620.9" y1="127.5" x2="626.1" y2="127.5" stroke="#000" stroke-width="0.9"/>
<line x1="620.9" y1="131.5" x2="626.1" y2="131.5" stroke="#000" stroke-width="0.9"/>
<line x1="635.7" y1="126.5" x2="635.7" y2="131.5" stroke="#000" stroke-width="0.9"/>
<line x1="633.1" y1="126.5" x2="638.3" y2="126.5" stroke="#000" stroke-width="0.9"/>
<line x1="633.1" y1="131.5" x2="638.3" y2="131.5" stroke="#000" stroke-width="0.9"/>
<line x1="648.2" y1="128.5" x2="648.2" y2="136" stroke="#000" stroke-width="0.9"/>
<line x1="645.6" y1="128.5" x2="650.8" y2="128.5" stroke="#000" stroke-width="0.9"/>
<line x1="645.6" y1="136" x2="650.8" y2="136" stroke="#000" stroke-width="0.9"/>
<line x1="660.5" y1="134.5" x2="660.5" y2="138" stroke="#000" stroke-width="0.9"/>
<line x1="657.9" y1="134.5" x2="663.1" y2="134.5" stroke="#000" stroke-width="0.9"/>
<line x1="657.9" y1="138" x2="663.1" y2="138" stroke="#000" stroke-width="0.9"/>
<line x1="672.8" y1="138.5" x2="672.8" y2="141.2" stroke="#000" stroke-width="0.9"/>
<line x1="670.2" y1="138.5" x2="675.4" y2="138.5" stroke="#000" stroke-width="0.9"/>
<line x1="670.2" y1="141.2" x2="675.4" y2="141.2" stroke="#000" stroke-width="0.9"/>
<circle cx="327" cy="120" r="1.85" fill="#fff" stroke="#a00000" stroke-width="1.35"/>
<circle cx="330" cy="120" r="1.85" fill="#fff" stroke="#a00000" stroke-width="1.35"/>
<circle cx="333" cy="120" r="1.85" fill="#fff" stroke="#a00000" stroke-width="1.35"/>
<circle cx="338.4" cy="107.6" r="1.85" fill="#fff" stroke="#ff0000" stroke-width="1.35"/>
<circle cx="342.2" cy="102.3" r="1.85" fill="#fff" stroke="#ff0000" stroke-width="1.35"/>
<circle cx="345.9" cy="105.2" r="1.85" fill="#fff" stroke="#ff0000" stroke-width="1.35"/>
<circle cx="354.5" cy="100.8" r="1.85" fill="#fff" stroke="#ff8080" stroke-width="1.35"/>
<circle cx="358.2" cy="99.4" r="1.85" fill="#fff" stroke="#ff8080" stroke-width="1.35"/>
<circle cx="354.5" cy="104.6" r="1" fill="#fff" stroke="none" stroke-width="0"/>
<circle cx="366.8" cy="66.9" r="1.85" fill="#fff" stroke="#ffcccc" stroke-width="1.35"/>
<circle cx="366.4" cy="82.1" r="1" fill="#fff" stroke="none" stroke-width="0"/>
<circle cx="366.4" cy="86.3" r="1" fill="#fff" stroke="none" stroke-width="0"/>
<circle cx="375.7" cy="64" r="1.85" fill="#fff" stroke="#c4daf8" stroke-width="1.35"/>
<circle cx="379.5" cy="58.4" r="1.85" fill="#fff" stroke="#c4daf8" stroke-width="1.35"/>
<circle cx="383" cy="62" r="1.85" fill="#fff" stroke="#c4daf8" stroke-width="1.35"/>
<circle cx="387.4" cy="58.8" r="1.85" fill="#fff" stroke="#7fb0f5" stroke-width="1.35"/>
<circle cx="391.5" cy="47.7" r="1.85" fill="#fff" stroke="#7fb0f5" stroke-width="1.35"/>
<circle cx="395.3" cy="56.7" r="1.85" fill="#fff" stroke="#7fb0f5" stroke-width="1.35"/>
<circle cx="403.7" cy="42.1" r="1.85" fill="#fff" stroke="#3d88ee" stroke-width="1.35"/>
<circle cx="407.6" cy="40" r="1.85" fill="#fff" stroke="#3d88ee" stroke-width="1.35"/>
<circle cx="404" cy="46.5" r="1" fill="#fff" stroke="none" stroke-width="0"/>
<circle cx="412.3" cy="42.1" r="1.85" fill="#fff" stroke="#0000e0" stroke-width="1.35"/>
<circle cx="416" cy="37.2" r="1.85" fill="#fff" stroke="#0000e0" stroke-width="1.35"/>
<circle cx="419.8" cy="41.6" r="1.85" fill="#fff" stroke="#0000e0" stroke-width="1.35"/>
<circle cx="424.7" cy="38.3" r="1.85" fill="#fff" stroke="#000080" stroke-width="1.35"/>
<circle cx="428.6" cy="36.4" r="1.85" fill="#fff" stroke="#000080" stroke-width="1.35"/>
<circle cx="432.1" cy="36.4" r="1.85" fill="#fff" stroke="#000080" stroke-width="1.35"/>
<circle cx="449" cy="120" r="1.85" fill="#fff" stroke="#a00000" stroke-width="1.35"/>
<circle cx="452" cy="120" r="1.85" fill="#fff" stroke="#a00000" stroke-width="1.35"/>
<circle cx="455" cy="120" r="1.85" fill="#fff" stroke="#a00000" stroke-width="1.35"/>
<circle cx="461.5" cy="121" r="1.85" fill="#fff" stroke="#ff0000" stroke-width="1.35"/>
<circle cx="464.7" cy="119.2" r="1.85" fill="#fff" stroke="#ff0000" stroke-width="1.35"/>
<circle cx="467.8" cy="120.6" r="1.85" fill="#fff" stroke="#ff0000" stroke-width="1.35"/>
<circle cx="473.5" cy="132" r="1.85" fill="#fff" stroke="#ff8080" stroke-width="1.35"/>
<circle cx="476.7" cy="130.8" r="1.85" fill="#fff" stroke="#ff8080" stroke-width="1.35"/>
<circle cx="480" cy="132.3" r="1.85" fill="#fff" stroke="#ff8080" stroke-width="1.35"/>
<circle cx="486" cy="137.2" r="1.85" fill="#fff" stroke="#ffcccc" stroke-width="1.35"/>
<circle cx="489.3" cy="134.6" r="1.85" fill="#fff" stroke="#ffcccc" stroke-width="1.35"/>
<circle cx="492.5" cy="136.5" r="1.85" fill="#fff" stroke="#ffcccc" stroke-width="1.35"/>
<circle cx="498" cy="144.5" r="1.85" fill="#fff" stroke="#c4daf8" stroke-width="1.35"/>
<circle cx="501.3" cy="139" r="1.85" fill="#fff" stroke="#c4daf8" stroke-width="1.35"/>
<circle cx="504.7" cy="143.2" r="1.85" fill="#fff" stroke="#c4daf8" stroke-width="1.35"/>
<circle cx="510.5" cy="143.8" r="1.85" fill="#fff" stroke="#7fb0f5" stroke-width="1.35"/>
<circle cx="513.8" cy="140.8" r="1.85" fill="#fff" stroke="#7fb0f5" stroke-width="1.35"/>
<circle cx="517" cy="143.2" r="1.85" fill="#fff" stroke="#7fb0f5" stroke-width="1.35"/>
<circle cx="523" cy="148.3" r="1.85" fill="#fff" stroke="#3d88ee" stroke-width="1.35"/>
<circle cx="526.3" cy="145.5" r="1.85" fill="#fff" stroke="#3d88ee" stroke-width="1.35"/>
<circle cx="529.6" cy="148" r="1.85" fill="#fff" stroke="#3d88ee" stroke-width="1.35"/>
<circle cx="535" cy="148.8" r="1.85" fill="#fff" stroke="#0000e0" stroke-width="1.35"/>
<circle cx="538.4" cy="147.3" r="1.85" fill="#fff" stroke="#0000e0" stroke-width="1.35"/>
<circle cx="541.7" cy="148.6" r="1.85" fill="#fff" stroke="#0000e0" stroke-width="1.35"/>
<circle cx="547.3" cy="149" r="1.85" fill="#fff" stroke="#000080" stroke-width="1.35"/>
<circle cx="550.7" cy="147.8" r="1.85" fill="#fff" stroke="#000080" stroke-width="1.35"/>
<circle cx="554.2" cy="148.6" r="1.85" fill="#fff" stroke="#000080" stroke-width="1.35"/>
<circle cx="571.5" cy="120" r="1.85" fill="#fff" stroke="#a00000" stroke-width="1.35"/>
<circle cx="574.5" cy="120" r="1.85" fill="#fff" stroke="#a00000" stroke-width="1.35"/>
<circle cx="577.5" cy="120" r="1.85" fill="#fff" stroke="#a00000" stroke-width="1.35"/>
<circle cx="583.5" cy="121.3" r="1.85" fill="#fff" stroke="#ff0000" stroke-width="1.35"/>
<circle cx="586.5" cy="118.6" r="1.85" fill="#fff" stroke="#ff0000" stroke-width="1.35"/>
<circle cx="589.7" cy="121.2" r="1.85" fill="#fff" stroke="#ff0000" stroke-width="1.35"/>
<circle cx="595" cy="108.3" r="1.85" fill="#fff" stroke="#ff8080" stroke-width="1.35"/>
<circle cx="602.3" cy="108.3" r="1.85" fill="#fff" stroke="#ff8080" stroke-width="1.35"/>
<circle cx="598.8" cy="130.5" r="1" fill="#fff" stroke="none" stroke-width="0"/>
<circle cx="608.3" cy="122.3" r="1.85" fill="#fff" stroke="#ffcccc" stroke-width="1.35"/>
<circle cx="611.2" cy="117.3" r="1.85" fill="#fff" stroke="#ffcccc" stroke-width="1.35"/>
<circle cx="611" cy="129.5" r="1" fill="#fff" stroke="none" stroke-width="0"/>
<circle cx="619.8" cy="123" r="1.85" fill="#fff" stroke="#c4daf8" stroke-width="1.35"/>
<circle cx="623.5" cy="126.5" r="1.85" fill="#fff" stroke="#c4daf8" stroke-width="1.35"/>
<circle cx="623.2" cy="131.5" r="1.85" fill="#fff" stroke="#c4daf8" stroke-width="1.35"/>
<circle cx="623.5" cy="137.5" r="1" fill="#fff" stroke="none" stroke-width="0"/>
<circle cx="632.3" cy="125" r="1.85" fill="#fff" stroke="#7fb0f5" stroke-width="1.35"/>
<circle cx="635.7" cy="122.2" r="1.85" fill="#fff" stroke="#7fb0f5" stroke-width="1.35"/>
<circle cx="639.3" cy="124.6" r="1.85" fill="#fff" stroke="#7fb0f5" stroke-width="1.35"/>
<circle cx="635.7" cy="138" r="1" fill="#fff" stroke="none" stroke-width="0"/>
<circle cx="644.5" cy="130.5" r="1.85" fill="#fff" stroke="#3d88ee" stroke-width="1.35"/>
<circle cx="648.2" cy="123.8" r="1.85" fill="#fff" stroke="#3d88ee" stroke-width="1.35"/>
<circle cx="651.5" cy="130.8" r="1.85" fill="#fff" stroke="#3d88ee" stroke-width="1.35"/>
<circle cx="648" cy="142.5" r="1" fill="#fff" stroke="none" stroke-width="0"/>
<circle cx="657" cy="135.8" r="1.85" fill="#fff" stroke="#0000e0" stroke-width="1.35"/>
<circle cx="660.5" cy="130.5" r="1.85" fill="#fff" stroke="#0000e0" stroke-width="1.35"/>
<circle cx="663.8" cy="133" r="1.85" fill="#fff" stroke="#0000e0" stroke-width="1.35"/>
<circle cx="660.3" cy="142.3" r="1" fill="#fff" stroke="none" stroke-width="0"/>
<circle cx="669.3" cy="136.8" r="1.85" fill="#fff" stroke="#000080" stroke-width="1.35"/>
<circle cx="672.8" cy="138" r="1.85" fill="#fff" stroke="#000080" stroke-width="1.35"/>
<circle cx="676.3" cy="137.5" r="1.85" fill="#fff" stroke="#000080" stroke-width="1.35"/>
<circle cx="672.5" cy="145.5" r="1" fill="#fff" stroke="none" stroke-width="0"/>
<rect x="362" y="67.3" width="10.5" height="8" fill="#fff"/>
<text x="355" y="74" font-size="5" text-anchor="middle" fill="#000" font-style="italic">P=</text>
<text x="355" y="81.3" font-size="4.6" text-anchor="middle" fill="#000" textLength="13" lengthAdjust="spacingAndGlyphs">0.0088</text>
<text x="366.8" y="49.3" font-size="5" text-anchor="middle" fill="#000" font-style="italic">P=</text>
<text x="366.8" y="56.6" font-size="4.6" text-anchor="middle" fill="#000" textLength="13" lengthAdjust="spacingAndGlyphs">0.0080</text>
<text x="379.3" y="39" font-size="5" text-anchor="middle" fill="#000" font-style="italic">P=</text>
<text x="379.3" y="46.3" font-size="4.6" text-anchor="middle" fill="#000" textLength="13" lengthAdjust="spacingAndGlyphs">0.0016</text>
<text x="392" y="29.7" font-size="5" text-anchor="middle" fill="#000" font-style="italic">P=</text>
<text x="392" y="37" font-size="4.6" text-anchor="middle" fill="#000" textLength="13" lengthAdjust="spacingAndGlyphs">0.0042</text>
<text x="404.1" y="24.8" font-size="5" text-anchor="middle" fill="#000" font-style="italic">P=</text>
<text x="404.1" y="32.1" font-size="4.6" text-anchor="middle" fill="#000" textLength="13" lengthAdjust="spacingAndGlyphs">0.0001</text>
<text x="417.2" y="26.4" font-size="7.4" text-anchor="middle" fill="#000" font-weight="bold" stroke="#000" stroke-width="0.3" textLength="11.6" lengthAdjust="spacingAndGlyphs">****</text>
<text x="428.8" y="22.4" font-size="7.4" text-anchor="middle" fill="#000" font-weight="bold" stroke="#000" stroke-width="0.3" textLength="11.6" lengthAdjust="spacingAndGlyphs">****</text>
<text x="477" y="110.2" font-size="5" text-anchor="middle" fill="#000" font-style="italic">P=</text>
<text x="477" y="117.5" font-size="4.6" text-anchor="middle" fill="#000" textLength="13" lengthAdjust="spacingAndGlyphs">0.0001</text>
<text x="489" y="125.3" font-size="7.4" text-anchor="middle" fill="#000" font-weight="bold" stroke="#000" stroke-width="0.3" textLength="11.6" lengthAdjust="spacingAndGlyphs">****</text>
<text x="501" y="124" font-size="5" text-anchor="middle" fill="#000" font-style="italic">P=</text>
<text x="501" y="131.3" font-size="4.6" text-anchor="middle" fill="#000" textLength="13" lengthAdjust="spacingAndGlyphs">0.0003</text>
<text x="514.5" y="136.1" font-size="7.4" text-anchor="middle" fill="#000" font-weight="bold" stroke="#000" stroke-width="0.3" textLength="11.6" lengthAdjust="spacingAndGlyphs">****</text>
<text x="527" y="140" font-size="7.4" text-anchor="middle" fill="#000" font-weight="bold" stroke="#000" stroke-width="0.3" textLength="11.6" lengthAdjust="spacingAndGlyphs">****</text>
<text x="539" y="143.6" font-size="7.4" text-anchor="middle" fill="#000" font-weight="bold" stroke="#000" stroke-width="0.3" textLength="11.6" lengthAdjust="spacingAndGlyphs">****</text>
<text x="551" y="147" font-size="7.4" text-anchor="middle" fill="#000" font-weight="bold" stroke="#000" stroke-width="0.3" textLength="11.6" lengthAdjust="spacingAndGlyphs">****</text>
<text x="623.8" y="106.2" font-size="5" text-anchor="middle" fill="#000" font-style="italic">P=</text>
<text x="623.8" y="113.5" font-size="4.6" text-anchor="middle" fill="#000" textLength="13" lengthAdjust="spacingAndGlyphs">0.0391</text>
<text x="648.7" y="108.3" font-size="5" text-anchor="middle" fill="#000" font-style="italic">P=</text>
<text x="648.7" y="115.6" font-size="4.6" text-anchor="middle" fill="#000" textLength="13" lengthAdjust="spacingAndGlyphs">0.0212</text>
<text x="660.8" y="117.1" font-size="5" text-anchor="middle" fill="#000" font-style="italic">P=</text>
<text x="660.8" y="124.4" font-size="4.6" text-anchor="middle" fill="#000" textLength="13" lengthAdjust="spacingAndGlyphs">0.0010</text>
<text x="673.6" y="131.2" font-size="7.4" text-anchor="middle" fill="#000" font-weight="bold" stroke="#000" stroke-width="0.3" textLength="11.6" lengthAdjust="spacingAndGlyphs">****</text>
</g>
<g id="panel-b">
<text x="6.6" y="201.2" font-size="11.5" text-anchor="start" fill="#000" font-weight="bold" stroke="#000" stroke-width="0.3" textLength="6.4" lengthAdjust="spacingAndGlyphs">b</text>
<text x="96.5" y="211.3" font-size="8.2" text-anchor="middle" fill="#000" font-weight="bold" stroke="#000" stroke-width="0.3" textLength="41.5" lengthAdjust="spacingAndGlyphs">Glycolysis</text>
<rect x="47" y="270.2" width="14.3" height="66.3" fill="#1a1a1a" stroke="#000" stroke-width="1.5"/>
<rect x="75.2" y="282" width="14.1" height="54.5" fill="#a00000" stroke="#000" stroke-width="1.5"/>
<rect x="103.2" y="310" width="14.1" height="26.5" fill="#a6a6ae" stroke="#000" stroke-width="1.5"/>
<rect x="131.2" y="274.5" width="14.4" height="62" fill="#ff9e9e" stroke="#000" stroke-width="1.5"/>
<line x1="37.6" y1="233.6" x2="37.6" y2="337.1" stroke="#000" stroke-width="1.4"/>
<line x1="32.8" y1="336.5" x2="155.5" y2="336.5" stroke="#000" stroke-width="1.4"/>
<line x1="54.2" y1="336.5" x2="54.2" y2="340.1" stroke="#000" stroke-width="1.1"/>
<line x1="82.3" y1="336.5" x2="82.3" y2="340.1" stroke="#000" stroke-width="1.1"/>
<line x1="110.3" y1="336.5" x2="110.3" y2="340.1" stroke="#000" stroke-width="1.1"/>
<line x1="138.4" y1="336.5" x2="138.4" y2="340.1" stroke="#000" stroke-width="1.1"/>
<line x1="33.6" y1="336.5" x2="37.6" y2="336.5" stroke="#000" stroke-width="1.1"/>
<text x="32" y="339.4" font-size="8.2" text-anchor="end" fill="#000">0</text>
<line x1="33.6" y1="316" x2="37.6" y2="316" stroke="#000" stroke-width="1.1"/>
<text x="32" y="318.9" font-size="8.2" text-anchor="end" fill="#000">1</text>
<line x1="33.6" y1="295.5" x2="37.6" y2="295.5" stroke="#000" stroke-width="1.1"/>
<text x="32" y="298.4" font-size="8.2" text-anchor="end" fill="#000">2</text>
<line x1="33.6" y1="275" x2="37.6" y2="275" stroke="#000" stroke-width="1.1"/>
<text x="32" y="277.9" font-size="8.2" text-anchor="end" fill="#000">3</text>
<line x1="33.6" y1="254.5" x2="37.6" y2="254.5" stroke="#000" stroke-width="1.1"/>
<text x="32" y="257.4" font-size="8.2" text-anchor="end" fill="#000">4</text>
<line x1="33.6" y1="234" x2="37.6" y2="234" stroke="#000" stroke-width="1.1"/>
<text x="32" y="236.9" font-size="8.2" text-anchor="end" fill="#000">5</text>
<text x="22.6" y="285" font-size="8.1" text-anchor="middle" fill="#000" font-weight="bold" stroke="#000" stroke-width="0.3" textLength="110" lengthAdjust="spacingAndGlyphs" transform="rotate(-90 22.6 285)">ECAR (mpH/min/1000 Cells)</text>
<line x1="54.2" y1="265" x2="54.2" y2="274" stroke="#000" stroke-width="0.9"/>
<line x1="51.4" y1="265" x2="57" y2="265" stroke="#000" stroke-width="0.9"/>
<line x1="51.4" y1="274" x2="57" y2="274" stroke="#000" stroke-width="0.9"/>
<line x1="82.3" y1="278.3" x2="82.3" y2="284" stroke="#000" stroke-width="0.9"/>
<line x1="79.5" y1="278.3" x2="85.1" y2="278.3" stroke="#000" stroke-width="0.9"/>
<line x1="79.5" y1="284" x2="85.1" y2="284" stroke="#000" stroke-width="0.9"/>
<line x1="110.3" y1="307.5" x2="110.3" y2="311" stroke="#000" stroke-width="0.9"/>
<line x1="107.7" y1="307.5" x2="112.9" y2="307.5" stroke="#000" stroke-width="0.9"/>
<line x1="107.7" y1="311" x2="112.9" y2="311" stroke="#000" stroke-width="0.9"/>
<line x1="138.4" y1="270" x2="138.4" y2="277.5" stroke="#000" stroke-width="0.9"/>
<line x1="134.8" y1="270" x2="142" y2="270" stroke="#000" stroke-width="0.9"/>
<line x1="134.8" y1="277.5" x2="142" y2="277.5" stroke="#000" stroke-width="0.9"/>
<circle cx="54.5" cy="254.5" r="2.1" fill="#fff" stroke="#000" stroke-width="1"/>
<circle cx="60" cy="254.5" r="2.1" fill="#fff" stroke="#000" stroke-width="1"/>
<circle cx="47.5" cy="268" r="2.1" fill="#fff" stroke="#000" stroke-width="1"/>
<circle cx="54.3" cy="271.5" r="2.1" fill="#fff" stroke="#000" stroke-width="1"/>
<circle cx="54.6" cy="277.5" r="2.1" fill="#fff" stroke="#000" stroke-width="1"/>
<circle cx="60" cy="277" r="2.1" fill="#fff" stroke="#000" stroke-width="1"/>
<circle cx="54" cy="283" r="2.1" fill="#fff" stroke="#000" stroke-width="1"/>
<rect x="74.4" y="272.9" width="4.2" height="4.2" fill="#fff" stroke="#000" stroke-width="1"/>
<rect x="85.9" y="270.7" width="4.2" height="4.2" fill="#fff" stroke="#000" stroke-width="1"/>
<rect x="80.2" y="275.9" width="4.2" height="4.2" fill="#fff" stroke="#000" stroke-width="1"/>
<rect x="85.7" y="277.4" width="4.2" height="4.2" fill="#fff" stroke="#000" stroke-width="1"/>
<rect x="77.2" y="278.9" width="4.2" height="4.2" fill="#fff" stroke="#000" stroke-width="1"/>
<rect x="73.9" y="280.9" width="4.2" height="4.2" fill="#fff" stroke="#000" stroke-width="1"/>
<rect x="82.9" y="281.4" width="4.2" height="4.2" fill="#fff" stroke="#000" stroke-width="1"/>
<path d="M104 307.6 l2.6 4.5 h-5.2 z" fill="#fff" stroke="#000" stroke-width="0.9"/>
<path d="M108.3 304.3 l2.6 4.5 h-5.2 z" fill="#fff" stroke="#000" stroke-width="0.9"/>
<path d="M112.2 305.6 l2.6 4.5 h-5.2 z" fill="#fff" stroke="#000" stroke-width="0.9"/>
<path d="M116 305.9 l2.6 4.5 h-5.2 z" fill="#fff" stroke="#000" stroke-width="0.9"/>
<path d="M138.3 259.7 l-2.6 -4.5 h5.2 z" fill="#fff" stroke="#000" stroke-width="0.9"/>
<path d="M132.8 272.4 l-2.6 -4.5 h5.2 z" fill="#fff" stroke="#000" stroke-width="0.9"/>
<path d="M144.5 270.9 l-2.6 -4.5 h5.2 z" fill="#fff" stroke="#000" stroke-width="0.9"/>
<path d="M138.5 275.2 l-2.6 -4.5 h5.2 z" fill="#fff" stroke="#000" stroke-width="0.9"/>
<path d="M137.5 280.5 l-2.6 -4.5 h5.2 z" fill="#fff" stroke="#000" stroke-width="0.9"/>
<path d="M145.3 279.7 l-2.6 -4.5 h5.2 z" fill="#fff" stroke="#000" stroke-width="0.9"/>
<path d="M132.8 284.1 l-2.6 -4.5 h5.2 z" fill="#fff" stroke="#000" stroke-width="0.9"/>
<path d="M144.3 283.9 l-2.6 -4.5 h5.2 z" fill="#fff" stroke="#000" stroke-width="0.9"/>
<line x1="53.3" y1="230.5" x2="138" y2="230.5" stroke="#000" stroke-width="1.3"/>
<text x="95.8" y="226" font-size="6.2" text-anchor="middle" fill="#000">ns</text>
<line x1="53.3" y1="240" x2="108" y2="240" stroke="#000" stroke-width="1.3"/>
<text x="81.3" y="238.6" font-size="9" text-anchor="middle" fill="#000" font-weight="bold" stroke="#000" stroke-width="0.3" textLength="20" lengthAdjust="spacingAndGlyphs">****</text>
<line x1="53.3" y1="250" x2="82" y2="250" stroke="#000" stroke-width="1.3"/>
<text x="67.5" y="246" font-size="6.2" text-anchor="middle" fill="#000">ns</text>
<line x1="110" y1="251.5" x2="137" y2="251.5" stroke="#000" stroke-width="1.3"/>
<text x="124.5" y="250.2" font-size="9" text-anchor="middle" fill="#000" font-weight="bold" stroke="#000" stroke-width="0.3" textLength="20" lengthAdjust="spacingAndGlyphs">****</text>
<text x="0" y="352" font-size="8.8" text-anchor="start" fill="#000" font-weight="bold" stroke="#000" stroke-width="0.3" textLength="25.8" lengthAdjust="spacingAndGlyphs">sgCdh1</text>
<text x="54.3" y="349.3" font-size="8.5" text-anchor="middle" fill="#000">-</text>
<text x="82" y="349.3" font-size="8.5" text-anchor="middle" fill="#000">+</text>
<text x="110" y="349.3" font-size="8.5" text-anchor="middle" fill="#000">-</text>
<text x="138" y="349.3" font-size="8.5" text-anchor="middle" fill="#000">+</text>
<line x1="50" y1="356.8" x2="85.8" y2="356.8" stroke="#000" stroke-width="1.5"/>
<line x1="106.3" y1="356.8" x2="142" y2="356.8" stroke="#000" stroke-width="1.5"/>
<text x="68.3" y="368.8" font-size="8.6" text-anchor="middle" fill="#000" font-weight="bold" stroke="#000" stroke-width="0.3" textLength="4.3" lengthAdjust="spacingAndGlyphs">P</text>
<text x="124.5" y="368.8" font-size="8.6" text-anchor="middle" fill="#000" font-weight="bold" stroke="#000" stroke-width="0.3" textLength="5.8" lengthAdjust="spacingAndGlyphs">Q</text>
</g>
<g id="panel-c">
<text x="170.2" y="200.6" font-size="11.5" text-anchor="start" fill="#000" font-weight="bold" stroke="#000" stroke-width="0.3" textLength="5.6" lengthAdjust="spacingAndGlyphs">c</text>
<text x="253" y="207.3" font-size="8.6" text-anchor="middle" fill="#000" font-weight="bold" stroke="#000" stroke-width="0.3" textLength="4.8" lengthAdjust="spacingAndGlyphs">P</text>
<text x="293.8" y="207.3" font-size="8.6" text-anchor="middle" fill="#000" font-weight="bold" stroke="#000" stroke-width="0.3" textLength="6.2" lengthAdjust="spacingAndGlyphs">Q</text>
<line x1="238" y1="210.8" x2="268.8" y2="210.8" stroke="#000" stroke-width="1.9"/>
<line x1="278.8" y1="210.8" x2="310" y2="210.8" stroke="#000" stroke-width="1.9"/>
<text x="220" y="226" font-size="8.8" text-anchor="end" fill="#000" font-weight="bold" stroke="#000" stroke-width="0.3" textLength="27" lengthAdjust="spacingAndGlyphs">sgCdh1</text>
<text x="245" y="223.3" font-size="7.5" text-anchor="middle" fill="#000" font-weight="bold" stroke="#000" stroke-width="0.3">-</text>
<text x="263.8" y="224.3" font-size="7.5" text-anchor="middle" fill="#000" font-weight="bold" stroke="#000" stroke-width="0.3">+</text>
<text x="285.5" y="223.3" font-size="7.5" text-anchor="middle" fill="#000" font-weight="bold" stroke="#000" stroke-width="0.3">-</text>
<text x="304.5" y="224.3" font-size="7.5" text-anchor="middle" fill="#000" font-weight="bold" stroke="#000" stroke-width="0.3">+</text>
<rect x="231" y="230.5" width="86.2" height="14.9" fill="#f7f7f7"/>
<rect x="231" y="248.5" width="86.2" height="18.1" fill="#f4f4f4"/>
<rect x="231" y="269.5" width="86.2" height="17.8" fill="#f5f5f5"/>
<rect x="231" y="290" width="86.2" height="19" fill="#f6f6f6"/>
<rect x="231" y="312" width="86.2" height="17.8" fill="#f5f5f5"/>
<rect x="231" y="334" width="86.2" height="18.3" fill="#efefef"/>
<rect x="273" y="235.8" width="16.7" height="4.8" fill="#000" rx="3.6" ry="2.4" opacity="1" filter="url(#b1)"/>
<rect x="236" y="239" width="15" height="2" fill="#000" rx="1.5" ry="1" opacity="0.05" filter="url(#b1)"/>
<rect x="299" y="239" width="15" height="2" fill="#000" rx="1.5" ry="1" opacity="0.05" filter="url(#b1)"/>
<rect x="235.7" y="255.8" width="16.3" height="6.4" fill="#000" rx="4.8" ry="3.2" opacity="1" filter="url(#b1)"/>
<rect x="255.3" y="255.6" width="17.7" height="6.4" fill="#000" rx="4.8" ry="3.2" opacity="1" filter="url(#b1)"/>
<rect x="279.2" y="257.3" width="11" height="3" fill="#000" rx="2.25" ry="1.5" opacity="0.25" filter="url(#b1)"/>
<rect x="298.5" y="256.5" width="16.3" height="4.6" fill="#000" rx="3.45" ry="2.3" opacity="0.85" filter="url(#b1)"/>
<rect x="234.4" y="276.7" width="15.8" height="4.6" fill="#000" rx="3.45" ry="2.3" opacity="0.9" filter="url(#b1)"/>
<rect x="254.8" y="277.2" width="15" height="4.2" fill="#000" rx="3.15" ry="2.1" opacity="0.75" filter="url(#b1)"/>
<rect x="277.6" y="277.1" width="14.9" height="3" fill="#000" rx="2.25" ry="1.5" opacity="0.35" filter="url(#b1)"/>
<rect x="298" y="274.8" width="16.8" height="5.6" fill="#000" rx="4.2" ry="2.8" opacity="1" filter="url(#b1)"/>
<rect x="234.1" y="298.2" width="15.7" height="2.2" fill="#000" rx="1.65" ry="1.1" opacity="1" filter="url(#b2)"/>
<rect x="255.1" y="298.2" width="15.7" height="2.2" fill="#000" rx="1.65" ry="1.1" opacity="1" filter="url(#b2)"/>
<rect x="276.8" y="298.5" width="14.1" height="1.8" fill="#000" rx="1.35" ry="0.9" opacity="0.6" filter="url(#b2)"/>
<rect x="298" y="297.7" width="15.7" height="2" fill="#000" rx="1.5" ry="1" opacity="0.95" filter="url(#b2)"/>
<rect x="276.8" y="303.5" width="14.1" height="2" fill="#000" rx="1.5" ry="1" opacity="0.1" filter="url(#b1)"/>
<rect x="298" y="303.5" width="15.7" height="2" fill="#000" rx="1.5" ry="1" opacity="0.08" filter="url(#b1)"/>
<rect x="235.7" y="318.9" width="14.4" height="2.6" fill="#000" rx="1.95" ry="1.3" opacity="0.18" filter="url(#b1)"/>
<rect x="256" y="320.3" width="14" height="2.4" fill="#000" rx="1.8" ry="1.2" opacity="0.08" filter="url(#b1)"/>
<rect x="275.5" y="318" width="17" height="4.4" fill="#000" rx="3.3" ry="2.2" opacity="0.85" filter="url(#b1)"/>
<rect x="298" y="318.9" width="16.5" height="4.8" fill="#000" rx="3.6" ry="2.4" opacity="0.85" filter="url(#b1)"/>
<rect x="232.8" y="341.3" width="18" height="5.8" fill="#000" rx="4.35" ry="2.9" opacity="1" filter="url(#b1)"/>
<rect x="252.5" y="341.3" width="20" height="5.4" fill="#000" rx="4.05" ry="2.7" opacity="1" filter="url(#b1)"/>
<rect x="274.5" y="340.7" width="18.1" height="5" fill="#000" rx="3.75" ry="2.5" opacity="1" filter="url(#b1)"/>
<rect x="294.5" y="339.6" width="21.1" height="4.8" fill="#000" rx="3.6" ry="2.4" opacity="1" filter="url(#b1)"/>
<rect x="231" y="230.5" width="86.2" height="14.9" fill="none" stroke="#000" stroke-width="1.1"/>
<rect x="231" y="248.5" width="86.2" height="18.1" fill="none" stroke="#000" stroke-width="1.1"/>
<rect x="231" y="269.5" width="86.2" height="17.8" fill="none" stroke="#000" stroke-width="1.1"/>
<rect x="231" y="290" width="86.2" height="19" fill="none" stroke="#000" stroke-width="1.1"/>
<rect x="231" y="312" width="86.2" height="17.8" fill="none" stroke="#000" stroke-width="1.1"/>
<rect x="231" y="334" width="86.2" height="18.3" fill="none" stroke="#000" stroke-width="1.1"/>
<text x="220" y="244.4" font-size="8.8" text-anchor="end" fill="#000" font-weight="bold" stroke="#000" stroke-width="0.3" textLength="41.3" lengthAdjust="spacingAndGlyphs">E-Cadherin</text>
<text x="220" y="262.2" font-size="8.8" text-anchor="end" fill="#000" font-weight="bold" stroke="#000" stroke-width="0.3" textLength="15" lengthAdjust="spacingAndGlyphs">HK2</text>
<text x="220" y="282.8" font-size="8.8" text-anchor="end" fill="#000" font-weight="bold" stroke="#000" stroke-width="0.3" textLength="22" lengthAdjust="spacingAndGlyphs">PKM1</text>
<text x="220" y="302.8" font-size="8.8" text-anchor="end" fill="#000" font-weight="bold" stroke="#000" stroke-width="0.3" textLength="22" lengthAdjust="spacingAndGlyphs">PKM2</text>
<text x="220" y="347" font-size="8.8" text-anchor="end" fill="#000" font-weight="bold" stroke="#000" stroke-width="0.3" textLength="30" lengthAdjust="spacingAndGlyphs">Vinculin</text>
<text x="209.3" y="326.6" font-size="8.8" text-anchor="end" fill="#000" font-weight="bold" stroke="#000" stroke-width="0.3" textLength="13.8" lengthAdjust="spacingAndGlyphs">p27</text>
<text x="209.5" y="323" font-size="5.6" text-anchor="start" fill="#000" font-weight="bold" stroke="#000" stroke-width="0.3" textLength="11" lengthAdjust="spacingAndGlyphs">Kip1</text>
<line x1="317.2" y1="233.8" x2="326.5" y2="233.8" stroke="#222" stroke-width="0.9"/>
<text x="331.3" y="236.3" font-size="7.1" text-anchor="start" fill="#111" textLength="10.8" lengthAdjust="spacingAndGlyphs">140</text>
<line x1="317.2" y1="263.8" x2="326.5" y2="263.8" stroke="#222" stroke-width="0.9"/>
<text x="331.3" y="266.3" font-size="7.1" text-anchor="start" fill="#111" textLength="10.8" lengthAdjust="spacingAndGlyphs">100</text>
<line x1="317.2" y1="283" x2="326.5" y2="283" stroke="#222" stroke-width="0.9"/>
<text x="331.3" y="285.5" font-size="7.1" text-anchor="start" fill="#111" textLength="7.2" lengthAdjust="spacingAndGlyphs">60</text>
<line x1="317.2" y1="303.3" x2="326.5" y2="303.3" stroke="#222" stroke-width="0.9"/>
<text x="331.3" y="305.8" font-size="7.1" text-anchor="start" fill="#111" textLength="7.2" lengthAdjust="spacingAndGlyphs">60</text>
<line x1="317.2" y1="320.3" x2="326.5" y2="320.3" stroke="#222" stroke-width="0.9"/>
<text x="331.3" y="322.8" font-size="7.1" text-anchor="start" fill="#111" textLength="7.2" lengthAdjust="spacingAndGlyphs">27</text>
<line x1="317.2" y1="337" x2="326.5" y2="337" stroke="#222" stroke-width="0.9"/>
<text x="331.3" y="339.5" font-size="7.1" text-anchor="start" fill="#111" textLength="10.8" lengthAdjust="spacingAndGlyphs">140</text>
<line x1="317.2" y1="352" x2="326.5" y2="352" stroke="#222" stroke-width="0.9"/>
<text x="331.3" y="354.5" font-size="7.1" text-anchor="start" fill="#111" textLength="10.8" lengthAdjust="spacingAndGlyphs">100</text>
<text x="328" y="364" font-size="6.8" text-anchor="start" fill="#111" textLength="17" lengthAdjust="spacingAndGlyphs">(kDa)</text>
</g>
<g id="chart-c">
<text x="471.2" y="201.5" font-size="13" text-anchor="start" fill="#000" font-weight="bold" stroke="#000" stroke-width="0.3" textLength="127.8" lengthAdjust="spacingAndGlyphs">Protein quantification</text>
<circle cx="458" cy="212.2" r="1.9" fill="none" stroke="#000000" stroke-width="1.3"/>
<circle cx="498.8" cy="212.2" r="1.9" fill="none" stroke="#a00000" stroke-width="1.3"/>
<circle cx="561.2" cy="212.2" r="1.9" fill="none" stroke="#a0a0a6" stroke-width="1.3"/>
<circle cx="603.3" cy="212.2" r="1.9" fill="none" stroke="#ff9090" stroke-width="1.3"/>
<text x="472.5" y="214.6" font-size="6.6" text-anchor="start" fill="#000" textLength="13.8" lengthAdjust="spacingAndGlyphs">P (-)</text>
<text x="513.8" y="214.6" font-size="6.6" text-anchor="start" fill="#000" textLength="35" lengthAdjust="spacingAndGlyphs">P E-cad KO</text>
<text x="576.5" y="214.6" font-size="6.6" text-anchor="start" fill="#000" textLength="14.5" lengthAdjust="spacingAndGlyphs">Q (-)</text>
<text x="618.5" y="214.6" font-size="6.6" text-anchor="start" fill="#000" textLength="36.3" lengthAdjust="spacingAndGlyphs">Q E-cad KO</text>
<rect x="416" y="333.83" width="7.9" height="14.47" fill="#000000" stroke="#000" stroke-width="1.3"/>
<rect x="426.8" y="335.64" width="7.4" height="12.66" fill="#a00000" stroke="#000" stroke-width="1.3"/>
<rect x="436.8" y="288" width="7.5" height="60.3" fill="#a6a6ae"/>
<line x1="436.9" y1="288" x2="436.9" y2="348.3" stroke="#000" stroke-width="1.4"/>
<line x1="444.2" y1="288" x2="444.2" y2="348.3" stroke="#000" stroke-width="1.4"/>
<rect x="436.8" y="259.5" width="7.5" height="19.4" fill="#a6a6ae"/>
<line x1="436.9" y1="259" x2="436.9" y2="278.9" stroke="#000" stroke-width="1.4"/>
<line x1="444.2" y1="259" x2="444.2" y2="278.9" stroke="#000" stroke-width="1.4"/>
<line x1="436.3" y1="259.6" x2="444.8" y2="259.6" stroke="#000" stroke-width="1.5"/>
<rect x="446.9" y="329.76" width="7.5" height="18.54" fill="#ff9e9e" stroke="#000" stroke-width="1.3"/>
<rect x="466" y="333.83" width="7.9" height="14.47" fill="#000000" stroke="#000" stroke-width="1.3"/>
<rect x="476.8" y="336.39" width="7.4" height="11.91" fill="#a00000" stroke="#000" stroke-width="1.3"/>
<rect x="486.9" y="346.79" width="7.3" height="1.51" fill="#a6a6ae" stroke="#000" stroke-width="1.3"/>
<rect x="496.9" y="338.05" width="7.5" height="10.25" fill="#ff9e9e" stroke="#000" stroke-width="1.3"/>
<rect x="515.7" y="333.83" width="7.9" height="14.47" fill="#000000" stroke="#000" stroke-width="1.3"/>
<rect x="526.5" y="333.08" width="7.4" height="15.22" fill="#a00000" stroke="#000" stroke-width="1.3"/>
<rect x="536.6" y="343.17" width="7.3" height="5.13" fill="#a6a6ae" stroke="#000" stroke-width="1.3"/>
<rect x="546.6" y="329.76" width="7.5" height="18.54" fill="#ff9e9e" stroke="#000" stroke-width="1.3"/>
<rect x="565.4" y="333.83" width="7.9" height="14.47" fill="#000000" stroke="#000" stroke-width="1.3"/>
<rect x="576.2" y="333.08" width="7.4" height="15.22" fill="#a00000" stroke="#000" stroke-width="1.3"/>
<rect x="586.3" y="341.06" width="7.3" height="7.24" fill="#a6a6ae" stroke="#000" stroke-width="1.3"/>
<rect x="596.3" y="331.87" width="7.5" height="16.43" fill="#ff9e9e" stroke="#000" stroke-width="1.3"/>
<rect x="615.4" y="333.83" width="7.9" height="14.47" fill="#000000" stroke="#000" stroke-width="1.3"/>
<rect x="626.2" y="332.62" width="7.4" height="15.68" fill="#a00000" stroke="#000" stroke-width="1.3"/>
<rect x="636.3" y="303.69" width="7.3" height="44.61" fill="#a6a6ae" stroke="#000" stroke-width="1.3"/>
<rect x="646.3" y="302.64" width="7.5" height="45.66" fill="#ff9e9e" stroke="#000" stroke-width="1.3"/>
<line x1="411.8" y1="217.4" x2="411.8" y2="278.9" stroke="#000" stroke-width="1.9"/>
<line x1="411.8" y1="288" x2="411.8" y2="349.2" stroke="#000" stroke-width="1.9"/>
<line x1="408.4" y1="278.9" x2="414.8" y2="278.9" stroke="#000" stroke-width="1.5"/>
<line x1="408.4" y1="288" x2="414.8" y2="288" stroke="#000" stroke-width="1.5"/>
<line x1="406.3" y1="348.3" x2="659.8" y2="348.3" stroke="#000" stroke-width="1.9"/>
<line x1="406.3" y1="218.3" x2="411.8" y2="218.3" stroke="#000" stroke-width="1.6"/>
<text x="404.3" y="221.6" font-size="9.4" text-anchor="end" fill="#000" font-weight="bold" stroke="#000" stroke-width="0.3">700</text>
<line x1="406.3" y1="248.5" x2="411.8" y2="248.5" stroke="#000" stroke-width="1.6"/>
<text x="404.3" y="251.8" font-size="9.4" text-anchor="end" fill="#000" font-weight="bold" stroke="#000" stroke-width="0.3">600</text>
<line x1="406.3" y1="278.6" x2="411.8" y2="278.6" stroke="#000" stroke-width="1.6"/>
<text x="404.3" y="281.9" font-size="9.4" text-anchor="end" fill="#000" font-weight="bold" stroke="#000" stroke-width="0.3">500</text>
<line x1="406.3" y1="288" x2="411.8" y2="288" stroke="#000" stroke-width="1.6"/>
<text x="404.3" y="291.3" font-size="9.4" text-anchor="end" fill="#000" font-weight="bold" stroke="#000" stroke-width="0.3">4</text>
<line x1="406.3" y1="303" x2="411.8" y2="303" stroke="#000" stroke-width="1.6"/>
<text x="404.3" y="306.3" font-size="9.4" text-anchor="end" fill="#000" font-weight="bold" stroke="#000" stroke-width="0.3">3</text>
<line x1="406.3" y1="318" x2="411.8" y2="318" stroke="#000" stroke-width="1.6"/>
<text x="404.3" y="321.3" font-size="9.4" text-anchor="end" fill="#000" font-weight="bold" stroke="#000" stroke-width="0.3">2</text>
<line x1="406.3" y1="333.2" x2="411.8" y2="333.2" stroke="#000" stroke-width="1.6"/>
<text x="404.3" y="336.5" font-size="9.4" text-anchor="end" fill="#000" font-weight="bold" stroke="#000" stroke-width="0.3">1</text>
<line x1="406.3" y1="348.3" x2="411.8" y2="348.3" stroke="#000" stroke-width="1.6"/>
<text x="404.3" y="351.6" font-size="9.4" text-anchor="end" fill="#000" font-weight="bold" stroke="#000" stroke-width="0.3">0</text>
<text x="382.6" y="283" font-size="10.4" text-anchor="middle" fill="#000" font-weight="bold" stroke="#000" stroke-width="0.3" textLength="98.8" lengthAdjust="spacingAndGlyphs" transform="rotate(-90 382.6 283)">Relative abundance</text>
<line x1="435" y1="348.3" x2="435" y2="353.5" stroke="#000" stroke-width="1.7"/>
<line x1="485" y1="348.3" x2="485" y2="353.5" stroke="#000" stroke-width="1.7"/>
<line x1="535.2" y1="348.3" x2="535.2" y2="353.5" stroke="#000" stroke-width="1.7"/>
<line x1="584.8" y1="348.3" x2="584.8" y2="353.5" stroke="#000" stroke-width="1.7"/>
<line x1="634.5" y1="348.3" x2="634.5" y2="353.5" stroke="#000" stroke-width="1.7"/>
<text x="435.4" y="364.1" font-size="10.2" text-anchor="middle" fill="#000" font-weight="bold" stroke="#000" stroke-width="0.3" textLength="52" lengthAdjust="spacingAndGlyphs">E-Cadherin</text>
<text x="485.4" y="364.1" font-size="10.2" text-anchor="middle" fill="#000" font-weight="bold" stroke="#000" stroke-width="0.3" textLength="19.4" lengthAdjust="spacingAndGlyphs">HK2</text>
<text x="535" y="364.1" font-size="10.2" text-anchor="middle" fill="#000" font-weight="bold" stroke="#000" stroke-width="0.3" textLength="26.2" lengthAdjust="spacingAndGlyphs">PKM1</text>
<text x="585" y="364.1" font-size="10.2" text-anchor="middle" fill="#000" font-weight="bold" stroke="#000" stroke-width="0.3" textLength="26.4" lengthAdjust="spacingAndGlyphs">PKM2</text>
<text x="619" y="364.1" font-size="10.2" text-anchor="start" fill="#000" font-weight="bold" stroke="#000" stroke-width="0.3" textLength="16.4" lengthAdjust="spacingAndGlyphs">p27</text>
<text x="635.8" y="359.8" font-size="6.8" text-anchor="start" fill="#000" textLength="14.5" lengthAdjust="spacingAndGlyphs">Kip1</text>
<line x1="441" y1="255" x2="441" y2="263.5" stroke="#000" stroke-width="1.3"/>
<line x1="438.6" y1="255" x2="443.4" y2="255" stroke="#000" stroke-width="1.3"/>
<line x1="438.6" y1="263.5" x2="443.4" y2="263.5" stroke="#000" stroke-width="1.3"/>
<line x1="451" y1="319.5" x2="451" y2="334.5" stroke="#000" stroke-width="1.3"/>
<line x1="448.4" y1="319.5" x2="453.6" y2="319.5" stroke="#000" stroke-width="1.3"/>
<line x1="448.4" y1="334.5" x2="453.6" y2="334.5" stroke="#000" stroke-width="1.3"/>
<circle cx="420" cy="333.3" r="1.75" fill="#fff" stroke="#000" stroke-width="1"/>
<circle cx="417.7" cy="333.3" r="1.75" fill="#fff" stroke="#000" stroke-width="1"/>
<circle cx="422.3" cy="333.3" r="1.75" fill="#fff" stroke="#000" stroke-width="1"/>
<circle cx="470" cy="333.3" r="1.75" fill="#fff" stroke="#000" stroke-width="1"/>
<circle cx="467.7" cy="333.3" r="1.75" fill="#fff" stroke="#000" stroke-width="1"/>
<circle cx="472.3" cy="333.3" r="1.75" fill="#fff" stroke="#000" stroke-width="1"/>
<circle cx="519.7" cy="333.3" r="1.75" fill="#fff" stroke="#000" stroke-width="1"/>
<circle cx="517.4" cy="333.3" r="1.75" fill="#fff" stroke="#000" stroke-width="1"/>
<circle cx="522" cy="333.3" r="1.75" fill="#fff" stroke="#000" stroke-width="1"/>
<circle cx="569.4" cy="333.3" r="1.75" fill="#fff" stroke="#000" stroke-width="1"/>
<circle cx="567.1" cy="333.3" r="1.75" fill="#fff" stroke="#000" stroke-width="1"/>
<circle cx="571.7" cy="333.3" r="1.75" fill="#fff" stroke="#000" stroke-width="1"/>
<circle cx="619.4" cy="333.3" r="1.75" fill="#fff" stroke="#000" stroke-width="1"/>
<circle cx="617.1" cy="333.3" r="1.75" fill="#fff" stroke="#000" stroke-width="1"/>
<circle cx="621.7" cy="333.3" r="1.75" fill="#fff" stroke="#000" stroke-width="1"/>
<circle cx="428.3" cy="335.5" r="1.95" fill="none" stroke="#a00000" stroke-width="1.25"/>
<circle cx="431.2" cy="333.5" r="1.95" fill="none" stroke="#a00000" stroke-width="1.25"/>
<circle cx="433.8" cy="332" r="1.95" fill="none" stroke="#a00000" stroke-width="1.25"/>
<circle cx="430" cy="337.5" r="1" fill="#fff" stroke="none" stroke-width="0"/>
<circle cx="440" cy="253.3" r="1.95" fill="none" stroke="#a0a0a6" stroke-width="1.25"/>
<circle cx="442.8" cy="251.2" r="1.95" fill="none" stroke="#a0a0a6" stroke-width="1.25"/>
<circle cx="441" cy="271" r="1" fill="#fff" stroke="none" stroke-width="0"/>
<circle cx="450.8" cy="311.5" r="1.95" fill="none" stroke="#ff9090" stroke-width="1.25"/>
<circle cx="450.5" cy="336" r="1" fill="#fff" stroke="none" stroke-width="0"/>
<circle cx="450.8" cy="341.5" r="1" fill="#fff" stroke="none" stroke-width="0"/>
<circle cx="477.7" cy="335.8" r="1.95" fill="none" stroke="#a00000" stroke-width="1.25"/>
<circle cx="480.3" cy="333.8" r="1.95" fill="none" stroke="#a00000" stroke-width="1.25"/>
<circle cx="482.7" cy="334.7" r="1.95" fill="none" stroke="#a00000" stroke-width="1.25"/>
<circle cx="488" cy="346.5" r="1.95" fill="none" stroke="#a0a0a6" stroke-width="1.25"/>
<circle cx="490.5" cy="344.3" r="1.95" fill="none" stroke="#a0a0a6" stroke-width="1.25"/>
<circle cx="493" cy="345.7" r="1.95" fill="none" stroke="#a0a0a6" stroke-width="1.25"/>
<circle cx="497.5" cy="337.3" r="1.95" fill="none" stroke="#ff9090" stroke-width="1.25"/>
<circle cx="500.5" cy="332.7" r="1.95" fill="none" stroke="#ff9090" stroke-width="1.25"/>
<circle cx="503.3" cy="335.3" r="1.95" fill="none" stroke="#ff9090" stroke-width="1.25"/>
<circle cx="528" cy="331.8" r="1.95" fill="none" stroke="#a00000" stroke-width="1.25"/>
<circle cx="532.6" cy="331.4" r="1.95" fill="none" stroke="#a00000" stroke-width="1.25"/>
<circle cx="530.2" cy="326.5" r="1.95" fill="none" stroke="#a00000" stroke-width="1.25"/>
<circle cx="527.6" cy="335.2" r="1" fill="#fff" stroke="none" stroke-width="0"/>
<circle cx="538.4" cy="339.6" r="1.95" fill="none" stroke="#a0a0a6" stroke-width="1.25"/>
<circle cx="542.4" cy="341.4" r="1.95" fill="none" stroke="#a0a0a6" stroke-width="1.25"/>
<circle cx="541.2" cy="338.6" r="1.95" fill="none" stroke="#a0a0a6" stroke-width="1.25"/>
<circle cx="549.4" cy="326.5" r="1.95" fill="none" stroke="#ff9090" stroke-width="1.25"/>
<circle cx="552.9" cy="329.8" r="1.95" fill="none" stroke="#ff9090" stroke-width="1.25"/>
<circle cx="552.9" cy="325.1" r="1.95" fill="none" stroke="#ff9090" stroke-width="1.25"/>
<circle cx="549.4" cy="332.2" r="1" fill="#fff" stroke="none" stroke-width="0"/>
<circle cx="577" cy="333.7" r="1.95" fill="none" stroke="#a00000" stroke-width="1.25"/>
<circle cx="582.1" cy="333.3" r="1.95" fill="none" stroke="#a00000" stroke-width="1.25"/>
<circle cx="579.8" cy="330.9" r="1.95" fill="none" stroke="#a00000" stroke-width="1.25"/>
<circle cx="582.1" cy="327.4" r="1.95" fill="none" stroke="#a00000" stroke-width="1.25"/>
<circle cx="587.2" cy="336.1" r="1.95" fill="none" stroke="#a0a0a6" stroke-width="1.25"/>
<circle cx="590.3" cy="338.4" r="1.95" fill="none" stroke="#a0a0a6" stroke-width="1.25"/>
<circle cx="592.6" cy="339.6" r="1.95" fill="none" stroke="#a0a0a6" stroke-width="1.25"/>
<circle cx="590.7" cy="343" r="1" fill="#fff" stroke="none" stroke-width="0"/>
<circle cx="600.8" cy="329.8" r="1.95" fill="none" stroke="#ff9090" stroke-width="1.25"/>
<circle cx="603.1" cy="330.9" r="1.95" fill="none" stroke="#ff9090" stroke-width="1.25"/>
<circle cx="602" cy="325.1" r="1.95" fill="none" stroke="#ff9090" stroke-width="1.25"/>
<circle cx="598" cy="333.6" r="1" fill="#fff" stroke="none" stroke-width="0"/>
<circle cx="627.2" cy="323.9" r="1.95" fill="none" stroke="#a00000" stroke-width="1.25"/>
<circle cx="629.5" cy="329.8" r="1.95" fill="none" stroke="#a00000" stroke-width="1.25"/>
<circle cx="632.8" cy="330.9" r="1.95" fill="none" stroke="#a00000" stroke-width="1.25"/>
<circle cx="630" cy="334.6" r="1" fill="#fff" stroke="none" stroke-width="0"/>
<circle cx="639.8" cy="302.9" r="1.95" fill="none" stroke="#a0a0a6" stroke-width="1.25"/>
<circle cx="639.8" cy="298.2" r="1.95" fill="none" stroke="#a0a0a6" stroke-width="1.25"/>
<circle cx="642.9" cy="297.1" r="1.95" fill="none" stroke="#a0a0a6" stroke-width="1.25"/>
<circle cx="640" cy="310.6" r="1" fill="#fff" stroke="none" stroke-width="0"/>
<circle cx="647.5" cy="304.1" r="1.95" fill="none" stroke="#ff9090" stroke-width="1.25"/>
<circle cx="652.7" cy="302.9" r="1.95" fill="none" stroke="#ff9090" stroke-width="1.25"/>
<circle cx="650.3" cy="298.2" r="1.95" fill="none" stroke="#ff9090" stroke-width="1.25"/>
<circle cx="653.4" cy="297.5" r="1.95" fill="none" stroke="#ff9090" stroke-width="1.25"/>
<text x="430" y="227.2" font-size="8.4" text-anchor="middle" fill="#000" font-weight="bold" stroke="#000" stroke-width="0.3" textLength="16" lengthAdjust="spacingAndGlyphs">****</text>
<line x1="418.8" y1="230" x2="441.3" y2="230" stroke="#000" stroke-width="1.7"/>
<text x="424.5" y="237.5" font-size="6.2" text-anchor="middle" fill="#000">ns</text>
<text x="432.2" y="238" font-size="6.5" textLength="29.3" lengthAdjust="spacingAndGlyphs"><tspan font-style="italic">P</tspan>&lt;0.0001</text>
<line x1="418.8" y1="243" x2="431.3" y2="243" stroke="#000" stroke-width="1.7"/>
<line x1="441.3" y1="243" x2="452.5" y2="243" stroke="#000" stroke-width="1.7"/>
<text x="478.8" y="275.2" font-size="8.4" text-anchor="middle" fill="#000" font-weight="bold" stroke="#000" stroke-width="0.3" textLength="16" lengthAdjust="spacingAndGlyphs">****</text>
<line x1="468.3" y1="277.5" x2="490.5" y2="277.5" stroke="#000" stroke-width="1.7"/>
<text x="473.8" y="285" font-size="6.2" text-anchor="middle" fill="#000">ns</text>
<text x="481.3" y="286" font-size="6.5" textLength="28.8" lengthAdjust="spacingAndGlyphs"><tspan font-style="italic">P</tspan>=0.0017</text>
<line x1="468.3" y1="290.8" x2="480.5" y2="290.8" stroke="#000" stroke-width="1.7"/>
<line x1="490" y1="290.8" x2="501.8" y2="290.8" stroke="#000" stroke-width="1.7"/>
<text x="514.5" y="272.6" font-size="6.5" textLength="29.2" lengthAdjust="spacingAndGlyphs"><tspan font-style="italic">P</tspan>=0.0001</text>
<line x1="517.5" y1="277.5" x2="541.3" y2="277.5" stroke="#000" stroke-width="1.7"/>
<text x="523.8" y="285.3" font-size="6.2" text-anchor="middle" fill="#000">ns</text>
<text x="531.3" y="286.2" font-size="6.5" textLength="28.8" lengthAdjust="spacingAndGlyphs"><tspan font-style="italic">P</tspan>=0.0006</text>
<line x1="517.5" y1="291.3" x2="530" y2="291.3" stroke="#000" stroke-width="1.7"/>
<line x1="539.5" y1="291.3" x2="551.3" y2="291.3" stroke="#000" stroke-width="1.7"/>
<text x="564.8" y="273" font-size="6.5" textLength="29.7" lengthAdjust="spacingAndGlyphs"><tspan font-style="italic">P</tspan>=0.0013</text>
<line x1="568.3" y1="278.8" x2="591.5" y2="278.8" stroke="#000" stroke-width="1.7"/>
<text x="574" y="286" font-size="6.2" text-anchor="middle" fill="#000">ns</text>
<text x="581" y="286.8" font-size="6.5" textLength="30" lengthAdjust="spacingAndGlyphs"><tspan font-style="italic">P</tspan>=0.0035</text>
<line x1="568.3" y1="292" x2="580.8" y2="292" stroke="#000" stroke-width="1.7"/>
<line x1="590.3" y1="292" x2="601.5" y2="292" stroke="#000" stroke-width="1.7"/>
<text x="629" y="271.4" font-size="8.4" text-anchor="middle" fill="#000" font-weight="bold" stroke="#000" stroke-width="0.3" textLength="16" lengthAdjust="spacingAndGlyphs">****</text>
<line x1="617.8" y1="274" x2="641" y2="274" stroke="#000" stroke-width="1.7"/>
<text x="624" y="282" font-size="6.2" text-anchor="middle" fill="#000">ns</text>
<text x="645.3" y="282.5" font-size="6.2" text-anchor="middle" fill="#000">ns</text>
<line x1="617.8" y1="287" x2="630.3" y2="287" stroke="#000" stroke-width="1.7"/>
<line x1="639.8" y1="287.8" x2="651" y2="287.8" stroke="#000" stroke-width="1.7"/>
</g>
<g id="panel-d">
<text x="6.6" y="397.4" font-size="11.5" text-anchor="start" fill="#000" font-weight="bold" stroke="#000" stroke-width="0.3" textLength="6.4" lengthAdjust="spacingAndGlyphs">d</text>
<text x="256.8" y="409.3" font-size="11.4" text-anchor="start" fill="#000" font-weight="bold" stroke="#000" stroke-width="0.3" textLength="47.5" lengthAdjust="spacingAndGlyphs">Glycolysis</text>
<text x="49.5" y="419.2" font-size="8.6" text-anchor="start" fill="#8c8c8c" font-weight="bold" stroke="#8c8c8c" stroke-width="0.3" textLength="36.8" lengthAdjust="spacingAndGlyphs">Enzymes :</text>
<text x="88.8" y="430.4" font-size="8.6" text-anchor="middle" fill="#8c8c8c" font-weight="bold" stroke="#8c8c8c" stroke-width="0.3" textLength="10" lengthAdjust="spacingAndGlyphs">HK</text>
<text x="154" y="430.4" font-size="8.6" text-anchor="middle" fill="#8c8c8c" font-weight="bold" stroke="#8c8c8c" stroke-width="0.3" textLength="12" lengthAdjust="spacingAndGlyphs">PFK</text>
<text x="222" y="430.4" font-size="8.6" text-anchor="middle" fill="#8c8c8c" font-weight="bold" stroke="#8c8c8c" stroke-width="0.3" textLength="21.3" lengthAdjust="spacingAndGlyphs">ALDO</text>
<text x="288.8" y="430.4" font-size="8.6" text-anchor="middle" fill="#8c8c8c" font-weight="bold" stroke="#8c8c8c" stroke-width="0.3" textLength="27.5" lengthAdjust="spacingAndGlyphs">GAPDH</text>
<text x="421.5" y="427.2" font-size="8.6" text-anchor="middle" fill="#8c8c8c" font-weight="bold" stroke="#8c8c8c" stroke-width="0.3" textLength="17" lengthAdjust="spacingAndGlyphs">PKM</text>
<text x="489.4" y="431.2" font-size="8.6" text-anchor="middle" fill="#8c8c8c" font-weight="bold" stroke="#8c8c8c" stroke-width="0.3" textLength="15.3" lengthAdjust="spacingAndGlyphs">LDH</text>
<text x="355.6" y="424.9" font-size="8.6" text-anchor="middle" fill="#8c8c8c" font-weight="bold" stroke="#8c8c8c" stroke-width="0.3" textLength="27.8" lengthAdjust="spacingAndGlyphs">PGAM/</text>
<text x="355.6" y="434.7" font-size="8.6" text-anchor="middle" fill="#8c8c8c" font-weight="bold" stroke="#8c8c8c" stroke-width="0.3" textLength="17.3" lengthAdjust="spacingAndGlyphs">ENO</text>
<rect x="66.5" y="442.3" width="4.6" height="4.6" fill="#000" stroke="#000" stroke-width="0.7"/>
<rect x="94.7" y="442.3" width="4.6" height="4.6" fill="#c00000" stroke="#000" stroke-width="0.7"/>
<rect x="147" y="442.3" width="4.6" height="4.6" fill="#a6a6a6" stroke="#000" stroke-width="0.7"/>
<rect x="176.5" y="442.3" width="4.6" height="4.6" fill="#f8cbad" stroke="#000" stroke-width="0.7"/>
<text x="72.5" y="447.7" font-size="8.4" text-anchor="start" fill="#000" font-weight="bold" stroke="#000" stroke-width="0.3" textLength="14.3" lengthAdjust="spacingAndGlyphs">P (-)</text>
<text x="100.8" y="447.7" font-size="8.4" text-anchor="start" fill="#000" font-weight="bold" stroke="#000" stroke-width="0.3" textLength="36.8" lengthAdjust="spacingAndGlyphs">P E-cad KO</text>
<text x="152.5" y="447.7" font-size="8.4" text-anchor="start" fill="#000" font-weight="bold" stroke="#000" stroke-width="0.3" textLength="15" lengthAdjust="spacingAndGlyphs">Q (-)</text>
<text x="182.5" y="447.7" font-size="8.4" text-anchor="start" fill="#000" font-weight="bold" stroke="#000" stroke-width="0.3" textLength="38.8" lengthAdjust="spacingAndGlyphs">Q E-cad KO</text>
<rect x="67.2" y="542.4" width="8.8" height="36.9" fill="#000000" stroke="#000" stroke-width="0.8"/>
<line x1="71.6" y1="541.4" x2="71.6" y2="542.6" stroke="#000" stroke-width="0.8"/>
<line x1="69" y1="541.4" x2="74.2" y2="541.4" stroke="#000" stroke-width="0.8"/>
<line x1="69" y1="542.6" x2="74.2" y2="542.6" stroke="#000" stroke-width="0.8"/>
<rect x="79.6" y="542.9" width="8.8" height="36.4" fill="#c00000" stroke="#000" stroke-width="0.8"/>
<line x1="84" y1="541.6" x2="84" y2="543.4" stroke="#000" stroke-width="0.8"/>
<line x1="81.4" y1="541.6" x2="86.6" y2="541.6" stroke="#000" stroke-width="0.8"/>
<line x1="81.4" y1="543.4" x2="86.6" y2="543.4" stroke="#000" stroke-width="0.8"/>
<rect x="91.7" y="563.7" width="8.7" height="15.6" fill="#a6a6a6" stroke="#000" stroke-width="0.8"/>
<line x1="96.05" y1="561.7" x2="96.05" y2="564.9" stroke="#000" stroke-width="0.8"/>
<line x1="93.45" y1="561.7" x2="98.65" y2="561.7" stroke="#000" stroke-width="0.8"/>
<line x1="93.45" y1="564.9" x2="98.65" y2="564.9" stroke="#000" stroke-width="0.8"/>
<rect x="103.7" y="535.4" width="9" height="43.9" fill="#f8cbad" stroke="#000" stroke-width="0.8"/>
<line x1="108.2" y1="533.2" x2="108.2" y2="536.8" stroke="#000" stroke-width="0.8"/>
<line x1="105.6" y1="533.2" x2="110.8" y2="533.2" stroke="#000" stroke-width="0.8"/>
<line x1="105.6" y1="536.8" x2="110.8" y2="536.8" stroke="#000" stroke-width="0.8"/>
<rect x="133.7" y="542.7" width="8.8" height="36.6" fill="#000000" stroke="#000" stroke-width="0.8"/>
<line x1="138.1" y1="541.7" x2="138.1" y2="542.9" stroke="#000" stroke-width="0.8"/>
<line x1="135.5" y1="541.7" x2="140.7" y2="541.7" stroke="#000" stroke-width="0.8"/>
<line x1="135.5" y1="542.9" x2="140.7" y2="542.9" stroke="#000" stroke-width="0.8"/>
<rect x="146.1" y="543.4" width="8.8" height="35.9" fill="#c00000" stroke="#000" stroke-width="0.8"/>
<line x1="150.5" y1="542.1" x2="150.5" y2="543.9" stroke="#000" stroke-width="0.8"/>
<line x1="147.9" y1="542.1" x2="153.1" y2="542.1" stroke="#000" stroke-width="0.8"/>
<line x1="147.9" y1="543.9" x2="153.1" y2="543.9" stroke="#000" stroke-width="0.8"/>
<rect x="158.2" y="564.2" width="8.7" height="15.1" fill="#a6a6a6" stroke="#000" stroke-width="0.8"/>
<line x1="162.55" y1="562.2" x2="162.55" y2="565.4" stroke="#000" stroke-width="0.8"/>
<line x1="159.95" y1="562.2" x2="165.15" y2="562.2" stroke="#000" stroke-width="0.8"/>
<line x1="159.95" y1="565.4" x2="165.15" y2="565.4" stroke="#000" stroke-width="0.8"/>
<rect x="170.2" y="536.7" width="9" height="42.6" fill="#f8cbad" stroke="#000" stroke-width="0.8"/>
<line x1="174.7" y1="534.5" x2="174.7" y2="538.1" stroke="#000" stroke-width="0.8"/>
<line x1="172.1" y1="534.5" x2="177.3" y2="534.5" stroke="#000" stroke-width="0.8"/>
<line x1="172.1" y1="538.1" x2="177.3" y2="538.1" stroke="#000" stroke-width="0.8"/>
<rect x="200.9" y="542.9" width="8.8" height="36.4" fill="#000000" stroke="#000" stroke-width="0.8"/>
<line x1="205.3" y1="541.9" x2="205.3" y2="543.1" stroke="#000" stroke-width="0.8"/>
<line x1="202.7" y1="541.9" x2="207.9" y2="541.9" stroke="#000" stroke-width="0.8"/>
<line x1="202.7" y1="543.1" x2="207.9" y2="543.1" stroke="#000" stroke-width="0.8"/>
<rect x="213.3" y="543.4" width="8.8" height="35.9" fill="#c00000" stroke="#000" stroke-width="0.8"/>
<line x1="217.7" y1="542.1" x2="217.7" y2="543.9" stroke="#000" stroke-width="0.8"/>
<line x1="215.1" y1="542.1" x2="220.3" y2="542.1" stroke="#000" stroke-width="0.8"/>
<line x1="215.1" y1="543.9" x2="220.3" y2="543.9" stroke="#000" stroke-width="0.8"/>
<rect x="225.4" y="564.2" width="8.7" height="15.1" fill="#a6a6a6" stroke="#000" stroke-width="0.8"/>
<line x1="229.75" y1="562.2" x2="229.75" y2="565.4" stroke="#000" stroke-width="0.8"/>
<line x1="227.15" y1="562.2" x2="232.35" y2="562.2" stroke="#000" stroke-width="0.8"/>
<line x1="227.15" y1="565.4" x2="232.35" y2="565.4" stroke="#000" stroke-width="0.8"/>
<rect x="237.4" y="536.9" width="9" height="42.4" fill="#f8cbad" stroke="#000" stroke-width="0.8"/>
<line x1="241.9" y1="534.7" x2="241.9" y2="538.3" stroke="#000" stroke-width="0.8"/>
<line x1="239.3" y1="534.7" x2="244.5" y2="534.7" stroke="#000" stroke-width="0.8"/>
<line x1="239.3" y1="538.3" x2="244.5" y2="538.3" stroke="#000" stroke-width="0.8"/>
<rect x="267.2" y="507.2" width="8.8" height="72.1" fill="#000000" stroke="#000" stroke-width="0.8"/>
<line x1="271.6" y1="504.8" x2="271.6" y2="508.8" stroke="#000" stroke-width="0.8"/>
<line x1="269" y1="504.8" x2="274.2" y2="504.8" stroke="#000" stroke-width="0.8"/>
<line x1="269" y1="508.8" x2="274.2" y2="508.8" stroke="#000" stroke-width="0.8"/>
<rect x="279.6" y="507.9" width="8.8" height="71.4" fill="#c00000" stroke="#000" stroke-width="0.8"/>
<line x1="284" y1="505.3" x2="284" y2="509.7" stroke="#000" stroke-width="0.8"/>
<line x1="281.4" y1="505.3" x2="286.6" y2="505.3" stroke="#000" stroke-width="0.8"/>
<line x1="281.4" y1="509.7" x2="286.6" y2="509.7" stroke="#000" stroke-width="0.8"/>
<rect x="291.7" y="548.7" width="8.7" height="30.6" fill="#a6a6a6" stroke="#000" stroke-width="0.8"/>
<line x1="296.05" y1="545" x2="296.05" y2="551.6" stroke="#000" stroke-width="0.8"/>
<line x1="293.45" y1="545" x2="298.65" y2="545" stroke="#000" stroke-width="0.8"/>
<line x1="293.45" y1="551.6" x2="298.65" y2="551.6" stroke="#000" stroke-width="0.8"/>
<rect x="303.7" y="492.9" width="9" height="86.4" fill="#f8cbad" stroke="#000" stroke-width="0.8"/>
<line x1="308.2" y1="489.3" x2="308.2" y2="495.7" stroke="#000" stroke-width="0.8"/>
<line x1="305.6" y1="489.3" x2="310.8" y2="489.3" stroke="#000" stroke-width="0.8"/>
<line x1="305.6" y1="495.7" x2="310.8" y2="495.7" stroke="#000" stroke-width="0.8"/>
<rect x="334.2" y="506.9" width="8.8" height="72.4" fill="#000000" stroke="#000" stroke-width="0.8"/>
<line x1="338.6" y1="504.5" x2="338.6" y2="508.5" stroke="#000" stroke-width="0.8"/>
<line x1="336" y1="504.5" x2="341.2" y2="504.5" stroke="#000" stroke-width="0.8"/>
<line x1="336" y1="508.5" x2="341.2" y2="508.5" stroke="#000" stroke-width="0.8"/>
<rect x="346.6" y="507.9" width="8.8" height="71.4" fill="#c00000" stroke="#000" stroke-width="0.8"/>
<line x1="351" y1="505.3" x2="351" y2="509.7" stroke="#000" stroke-width="0.8"/>
<line x1="348.4" y1="505.3" x2="353.6" y2="505.3" stroke="#000" stroke-width="0.8"/>
<line x1="348.4" y1="509.7" x2="353.6" y2="509.7" stroke="#000" stroke-width="0.8"/>
<rect x="358.7" y="549.2" width="8.7" height="30.1" fill="#a6a6a6" stroke="#000" stroke-width="0.8"/>
<line x1="363.05" y1="545.5" x2="363.05" y2="552.1" stroke="#000" stroke-width="0.8"/>
<line x1="360.45" y1="545.5" x2="365.65" y2="545.5" stroke="#000" stroke-width="0.8"/>
<line x1="360.45" y1="552.1" x2="365.65" y2="552.1" stroke="#000" stroke-width="0.8"/>
<rect x="370.7" y="493.4" width="9" height="85.9" fill="#f8cbad" stroke="#000" stroke-width="0.8"/>
<line x1="375.2" y1="489.8" x2="375.2" y2="496.2" stroke="#000" stroke-width="0.8"/>
<line x1="372.6" y1="489.8" x2="377.8" y2="489.8" stroke="#000" stroke-width="0.8"/>
<line x1="372.6" y1="496.2" x2="377.8" y2="496.2" stroke="#000" stroke-width="0.8"/>
<rect x="400.9" y="502.4" width="8.8" height="76.9" fill="#000000" stroke="#000" stroke-width="0.8"/>
<line x1="405.3" y1="500.4" x2="405.3" y2="503.6" stroke="#000" stroke-width="0.8"/>
<line x1="402.7" y1="500.4" x2="407.9" y2="500.4" stroke="#000" stroke-width="0.8"/>
<line x1="402.7" y1="503.6" x2="407.9" y2="503.6" stroke="#000" stroke-width="0.8"/>
<rect x="413.3" y="505.9" width="8.8" height="73.4" fill="#c00000" stroke="#000" stroke-width="0.8"/>
<line x1="417.7" y1="503.3" x2="417.7" y2="507.7" stroke="#000" stroke-width="0.8"/>
<line x1="415.1" y1="503.3" x2="420.3" y2="503.3" stroke="#000" stroke-width="0.8"/>
<line x1="415.1" y1="507.7" x2="420.3" y2="507.7" stroke="#000" stroke-width="0.8"/>
<rect x="425.4" y="537.4" width="8.7" height="41.9" fill="#a6a6a6" stroke="#000" stroke-width="0.8"/>
<line x1="429.75" y1="533" x2="429.75" y2="541" stroke="#000" stroke-width="0.8"/>
<line x1="427.15" y1="533" x2="432.35" y2="533" stroke="#000" stroke-width="0.8"/>
<line x1="427.15" y1="541" x2="432.35" y2="541" stroke="#000" stroke-width="0.8"/>
<rect x="437.4" y="476.9" width="9" height="102.4" fill="#f8cbad" stroke="#000" stroke-width="0.8"/>
<line x1="441.9" y1="472.3" x2="441.9" y2="480.7" stroke="#000" stroke-width="0.8"/>
<line x1="439.3" y1="472.3" x2="444.5" y2="472.3" stroke="#000" stroke-width="0.8"/>
<line x1="439.3" y1="480.7" x2="444.5" y2="480.7" stroke="#000" stroke-width="0.8"/>
<rect x="467.4" y="507.4" width="8.8" height="71.9" fill="#000000" stroke="#000" stroke-width="0.8"/>
<line x1="471.8" y1="505.2" x2="471.8" y2="508.8" stroke="#000" stroke-width="0.8"/>
<line x1="469.2" y1="505.2" x2="474.4" y2="505.2" stroke="#000" stroke-width="0.8"/>
<line x1="469.2" y1="508.8" x2="474.4" y2="508.8" stroke="#000" stroke-width="0.8"/>
<rect x="479.8" y="514.2" width="8.8" height="65.1" fill="#c00000" stroke="#000" stroke-width="0.8"/>
<line x1="484.2" y1="512" x2="484.2" y2="515.6" stroke="#000" stroke-width="0.8"/>
<line x1="481.6" y1="512" x2="486.8" y2="512" stroke="#000" stroke-width="0.8"/>
<line x1="481.6" y1="515.6" x2="486.8" y2="515.6" stroke="#000" stroke-width="0.8"/>
<rect x="491.9" y="564.9" width="8.7" height="14.4" fill="#a6a6a6" stroke="#000" stroke-width="0.8"/>
<line x1="496.25" y1="562.3" x2="496.25" y2="566.7" stroke="#000" stroke-width="0.8"/>
<line x1="493.65" y1="562.3" x2="498.85" y2="562.3" stroke="#000" stroke-width="0.8"/>
<line x1="493.65" y1="566.7" x2="498.85" y2="566.7" stroke="#000" stroke-width="0.8"/>
<rect x="503.9" y="526.9" width="9" height="52.4" fill="#f8cbad" stroke="#000" stroke-width="0.8"/>
<line x1="508.4" y1="524.1" x2="508.4" y2="528.9" stroke="#000" stroke-width="0.8"/>
<line x1="505.8" y1="524.1" x2="511" y2="524.1" stroke="#000" stroke-width="0.8"/>
<line x1="505.8" y1="528.9" x2="511" y2="528.9" stroke="#000" stroke-width="0.8"/>
<line x1="55.5" y1="436.3" x2="55.5" y2="579.9" stroke="#000" stroke-width="1.5"/>
<line x1="52.5" y1="579.3" x2="523.8" y2="579.3" stroke="#000" stroke-width="1.5"/>
<line x1="52.5" y1="437" x2="55.5" y2="437" stroke="#000" stroke-width="1.1"/>
<text x="46.4" y="440.1" font-size="9" text-anchor="end" fill="#000" font-weight="bold" stroke="#000" stroke-width="0.3" textLength="20" lengthAdjust="spacingAndGlyphs">1200</text>
<line x1="52.5" y1="472.58" x2="55.5" y2="472.58" stroke="#000" stroke-width="1.1"/>
<text x="46.4" y="475.68" font-size="9" text-anchor="end" fill="#000" font-weight="bold" stroke="#000" stroke-width="0.3" textLength="15" lengthAdjust="spacingAndGlyphs">900</text>
<line x1="52.5" y1="508.15" x2="55.5" y2="508.15" stroke="#000" stroke-width="1.1"/>
<text x="46.4" y="511.25" font-size="9" text-anchor="end" fill="#000" font-weight="bold" stroke="#000" stroke-width="0.3" textLength="15" lengthAdjust="spacingAndGlyphs">600</text>
<line x1="52.5" y1="543.73" x2="55.5" y2="543.73" stroke="#000" stroke-width="1.1"/>
<text x="46.4" y="546.83" font-size="9" text-anchor="end" fill="#000" font-weight="bold" stroke="#000" stroke-width="0.3" textLength="15" lengthAdjust="spacingAndGlyphs">300</text>
<line x1="52.5" y1="579.3" x2="55.5" y2="579.3" stroke="#000" stroke-width="1.1"/>
<text x="46.4" y="582.4" font-size="9" text-anchor="end" fill="#000" font-weight="bold" stroke="#000" stroke-width="0.3" textLength="5" lengthAdjust="spacingAndGlyphs">0</text>
<line x1="123.5" y1="579.3" x2="123.5" y2="581.3" stroke="#000" stroke-width="1"/>
<line x1="190" y1="579.3" x2="190" y2="581.3" stroke="#000" stroke-width="1"/>
<line x1="257" y1="579.3" x2="257" y2="581.3" stroke="#000" stroke-width="1"/>
<line x1="323.8" y1="579.3" x2="323.8" y2="581.3" stroke="#000" stroke-width="1"/>
<line x1="389.5" y1="579.3" x2="389.5" y2="581.3" stroke="#000" stroke-width="1"/>
<line x1="457" y1="579.3" x2="457" y2="581.3" stroke="#000" stroke-width="1"/>
<rect x="36" y="580.9" width="14" height="4" fill="#fff"/>
<text x="19.6" y="504.5" font-size="9" font-weight="bold" stroke="#000" stroke-width="0.3" text-anchor="middle" textLength="96.3" lengthAdjust="spacingAndGlyphs" transform="rotate(-90 19.6 504.5)">Flux (nmol/10<tspan font-size="5.4" dy="-2.6">6</tspan><tspan dy="2.6">cells/h)</tspan></text>
<text x="75.5" y="485.3" font-size="6.9" font-weight="bold" stroke="#000" stroke-width="0.25" textLength="29.3" lengthAdjust="spacingAndGlyphs"><tspan font-style="italic">P</tspan>=0.0061</text>
<line x1="67" y1="486.5" x2="113.8" y2="486.5" stroke="#000" stroke-width="1.1"/>
<text x="68.8" y="497.9" font-size="6.9" font-weight="bold" stroke="#000" stroke-width="0.25" textLength="29.3" lengthAdjust="spacingAndGlyphs"><tspan font-style="italic">P</tspan>=0.0008</text>
<line x1="67" y1="499.3" x2="100" y2="499.3" stroke="#000" stroke-width="1.1"/>
<text x="77.5" y="509.3" font-size="6.4" text-anchor="middle" fill="#000" font-weight="bold" stroke="#000" stroke-width="0.3" textLength="6" lengthAdjust="spacingAndGlyphs">ns</text>
<text x="88.8" y="509.9" font-size="6.9" font-weight="bold" stroke="#000" stroke-width="0.25" textLength="29.3" lengthAdjust="spacingAndGlyphs"><tspan font-style="italic">P</tspan>=0.0005</text>
<line x1="67" y1="512.5" x2="87" y2="512.5" stroke="#000" stroke-width="1.1"/>
<line x1="93.8" y1="512.5" x2="113.8" y2="512.5" stroke="#000" stroke-width="1.1"/>
<text x="142" y="485.3" font-size="6.9" font-weight="bold" stroke="#000" stroke-width="0.25" textLength="29.3" lengthAdjust="spacingAndGlyphs"><tspan font-style="italic">P</tspan>=0.0008</text>
<line x1="133.5" y1="486.5" x2="180.3" y2="486.5" stroke="#000" stroke-width="1.1"/>
<text x="135.3" y="497.9" font-size="6.9" font-weight="bold" stroke="#000" stroke-width="0.25" textLength="29.3" lengthAdjust="spacingAndGlyphs"><tspan font-style="italic">P</tspan>=0.0008</text>
<line x1="133.5" y1="499.3" x2="166.5" y2="499.3" stroke="#000" stroke-width="1.1"/>
<text x="144" y="509.3" font-size="6.4" text-anchor="middle" fill="#000" font-weight="bold" stroke="#000" stroke-width="0.3" textLength="6" lengthAdjust="spacingAndGlyphs">ns</text>
<text x="155.3" y="509.9" font-size="6.9" font-weight="bold" stroke="#000" stroke-width="0.25" textLength="29.3" lengthAdjust="spacingAndGlyphs"><tspan font-style="italic">P</tspan>=0.0008</text>
<line x1="133.5" y1="512.5" x2="153.5" y2="512.5" stroke="#000" stroke-width="1.1"/>
<line x1="160.3" y1="512.5" x2="180.3" y2="512.5" stroke="#000" stroke-width="1.1"/>
<text x="207.6" y="485.4" font-size="6.9" font-weight="bold" stroke="#000" stroke-width="0.25" textLength="29.3" lengthAdjust="spacingAndGlyphs"><tspan font-style="italic">P</tspan>=0.0008</text>
<line x1="199.5" y1="486.6" x2="246.3" y2="486.6" stroke="#000" stroke-width="1.1"/>
<text x="201.3" y="498.2" font-size="6.9" font-weight="bold" stroke="#000" stroke-width="0.25" textLength="29.3" lengthAdjust="spacingAndGlyphs"><tspan font-style="italic">P</tspan>=0.0008</text>
<line x1="199.5" y1="499.6" x2="232.5" y2="499.6" stroke="#000" stroke-width="1.1"/>
<text x="210" y="509.4" font-size="6.4" text-anchor="middle" fill="#000" font-weight="bold" stroke="#000" stroke-width="0.3" textLength="6" lengthAdjust="spacingAndGlyphs">ns</text>
<text x="220.8" y="510" font-size="6.9" font-weight="bold" stroke="#000" stroke-width="0.25" textLength="29.3" lengthAdjust="spacingAndGlyphs"><tspan font-style="italic">P</tspan>=0.0008</text>
<line x1="199.5" y1="512.6" x2="219.5" y2="512.6" stroke="#000" stroke-width="1.1"/>
<line x1="226.3" y1="512.6" x2="246.3" y2="512.6" stroke="#000" stroke-width="1.1"/>
<text x="274.6" y="448.8" font-size="6.9" font-weight="bold" stroke="#000" stroke-width="0.25" textLength="29.3" lengthAdjust="spacingAndGlyphs"><tspan font-style="italic">P</tspan>=0.0061</text>
<line x1="266.5" y1="450" x2="313.3" y2="450" stroke="#000" stroke-width="1.1"/>
<text x="268.1" y="461.1" font-size="6.9" font-weight="bold" stroke="#000" stroke-width="0.25" textLength="29.3" lengthAdjust="spacingAndGlyphs"><tspan font-style="italic">P</tspan>=0.0008</text>
<line x1="266.5" y1="462.5" x2="299.5" y2="462.5" stroke="#000" stroke-width="1.1"/>
<text x="277" y="472.3" font-size="6.4" text-anchor="middle" fill="#000" font-weight="bold" stroke="#000" stroke-width="0.3" textLength="6" lengthAdjust="spacingAndGlyphs">ns</text>
<text x="288.8" y="472.9" font-size="6.9" font-weight="bold" stroke="#000" stroke-width="0.25" textLength="29.3" lengthAdjust="spacingAndGlyphs"><tspan font-style="italic">P</tspan>=0.0061</text>
<line x1="266.5" y1="475.5" x2="286.5" y2="475.5" stroke="#000" stroke-width="1.1"/>
<line x1="293.3" y1="475.5" x2="313.3" y2="475.5" stroke="#000" stroke-width="1.1"/>
<text x="340.8" y="447.6" font-size="6.9" font-weight="bold" stroke="#000" stroke-width="0.25" textLength="29.3" lengthAdjust="spacingAndGlyphs"><tspan font-style="italic">P</tspan>=0.0061</text>
<line x1="332.7" y1="448.8" x2="379.5" y2="448.8" stroke="#000" stroke-width="1.1"/>
<text x="334.3" y="460.6" font-size="6.9" font-weight="bold" stroke="#000" stroke-width="0.25" textLength="29.3" lengthAdjust="spacingAndGlyphs"><tspan font-style="italic">P</tspan>=0.0008</text>
<line x1="332.7" y1="462" x2="365.7" y2="462" stroke="#000" stroke-width="1.1"/>
<text x="343.2" y="472.1" font-size="6.4" text-anchor="middle" fill="#000" font-weight="bold" stroke="#000" stroke-width="0.3" textLength="6" lengthAdjust="spacingAndGlyphs">ns</text>
<text x="354.3" y="472.7" font-size="6.9" font-weight="bold" stroke="#000" stroke-width="0.25" textLength="29.3" lengthAdjust="spacingAndGlyphs"><tspan font-style="italic">P</tspan>=0.0061</text>
<line x1="332.7" y1="475.3" x2="352.7" y2="475.3" stroke="#000" stroke-width="1.1"/>
<line x1="359.5" y1="475.3" x2="379.5" y2="475.3" stroke="#000" stroke-width="1.1"/>
<text x="407.5" y="441.1" font-size="6.9" font-weight="bold" stroke="#000" stroke-width="0.25" textLength="29.3" lengthAdjust="spacingAndGlyphs"><tspan font-style="italic">P</tspan>=0.0045</text>
<line x1="399.7" y1="442.3" x2="446.5" y2="442.3" stroke="#000" stroke-width="1.1"/>
<text x="401.3" y="453.6" font-size="6.9" font-weight="bold" stroke="#000" stroke-width="0.25" textLength="29.3" lengthAdjust="spacingAndGlyphs"><tspan font-style="italic">P</tspan>=0.0009</text>
<line x1="399.7" y1="455" x2="432.7" y2="455" stroke="#000" stroke-width="1.1"/>
<text x="410.2" y="465.1" font-size="6.4" text-anchor="middle" fill="#000" font-weight="bold" stroke="#000" stroke-width="0.3" textLength="6" lengthAdjust="spacingAndGlyphs">ns</text>
<text x="420.8" y="465.7" font-size="6.9" font-weight="bold" stroke="#000" stroke-width="0.25" textLength="29.3" lengthAdjust="spacingAndGlyphs"><tspan font-style="italic">P</tspan>=0.0045</text>
<line x1="399.7" y1="468.3" x2="419.7" y2="468.3" stroke="#000" stroke-width="1.1"/>
<line x1="426.5" y1="468.3" x2="446.5" y2="468.3" stroke="#000" stroke-width="1.1"/>
<text x="474.3" y="458.8" font-size="6.9" font-weight="bold" stroke="#000" stroke-width="0.25" textLength="29.3" lengthAdjust="spacingAndGlyphs"><tspan font-style="italic">P</tspan>=0.0028</text>
<line x1="466.2" y1="460" x2="513" y2="460" stroke="#000" stroke-width="1.1"/>
<text x="468" y="471.6" font-size="6.9" font-weight="bold" stroke="#000" stroke-width="0.25" textLength="29.3" lengthAdjust="spacingAndGlyphs"><tspan font-style="italic">P</tspan>=0.0008</text>
<line x1="466.2" y1="473" x2="499.2" y2="473" stroke="#000" stroke-width="1.1"/>
<text x="457.3" y="484.2" font-size="6.9" font-weight="bold" stroke="#000" stroke-width="0.25" textLength="29.3" lengthAdjust="spacingAndGlyphs"><tspan font-style="italic">P</tspan>=0.0234</text>
<text x="490.8" y="484.2" font-size="6.9" font-weight="bold" stroke="#000" stroke-width="0.25" textLength="29.3" lengthAdjust="spacingAndGlyphs"><tspan font-style="italic">P</tspan>=0.0028</text>
<line x1="466.2" y1="486.8" x2="486.2" y2="486.8" stroke="#000" stroke-width="1.1"/>
<line x1="493" y1="486.8" x2="513" y2="486.8" stroke="#000" stroke-width="1.1"/>
<text x="84.3" y="592.8" font-size="8.2" text-anchor="middle" fill="#000" font-weight="bold" stroke="#000" stroke-width="0.3" textLength="12" lengthAdjust="spacingAndGlyphs">Glc</text>
<text x="84.3" y="610.2" font-size="8.2" text-anchor="middle" fill="#000" font-weight="bold" stroke="#000" stroke-width="0.3" textLength="15.7" lengthAdjust="spacingAndGlyphs">G6P</text>
<line x1="84.6" y1="595.8" x2="84.6" y2="602.5" stroke="#000" stroke-width="1.1"/>
<path d="M84.6 602.5 l2.2 -2.4 M84.6 602.5 l-2.2 -2.4" stroke="#000" stroke-width="1.1" fill="none"/>
<text x="154" y="592.8" font-size="8.2" text-anchor="middle" fill="#000" font-weight="bold" stroke="#000" stroke-width="0.3" textLength="12.7" lengthAdjust="spacingAndGlyphs">F6P</text>
<text x="154" y="610.2" font-size="8.2" text-anchor="middle" fill="#000" font-weight="bold" stroke="#000" stroke-width="0.3" textLength="12.7" lengthAdjust="spacingAndGlyphs">FBP</text>
<line x1="154.3" y1="595" x2="154.3" y2="603" stroke="#000" stroke-width="1.1"/>
<path d="M154.3 603 l2.2 -2.4 M154.3 603 l-2.2 -2.4 M154.3 595 l2.2 2.4 M154.3 595 l-2.2 2.4" stroke="#000" stroke-width="1.1" fill="none"/>
<text x="221.5" y="592.8" font-size="8.2" text-anchor="middle" fill="#000" font-weight="bold" stroke="#000" stroke-width="0.3" textLength="12.7" lengthAdjust="spacingAndGlyphs">FBP</text>
<text x="221.5" y="610.2" font-size="8.2" text-anchor="middle" fill="#000" font-weight="bold" stroke="#000" stroke-width="0.3" textLength="21.5" lengthAdjust="spacingAndGlyphs">DHAP</text>
<line x1="221.8" y1="595" x2="221.8" y2="603" stroke="#000" stroke-width="1.1"/>
<path d="M221.8 603 l2.2 -2.4 M221.8 603 l-2.2 -2.4 M221.8 595 l2.2 2.4 M221.8 595 l-2.2 2.4" stroke="#000" stroke-width="1.1" fill="none"/>
<text x="288.5" y="592.8" font-size="8.2" text-anchor="middle" fill="#000" font-weight="bold" stroke="#000" stroke-width="0.3" textLength="15.3" lengthAdjust="spacingAndGlyphs">GAP</text>
<text x="288.5" y="610.2" font-size="8.2" text-anchor="middle" fill="#000" font-weight="bold" stroke="#000" stroke-width="0.3" textLength="14.6" lengthAdjust="spacingAndGlyphs">3PG</text>
<line x1="288.8" y1="595" x2="288.8" y2="603" stroke="#000" stroke-width="1.1"/>
<path d="M288.8 603 l2.2 -2.4 M288.8 603 l-2.2 -2.4 M288.8 595 l2.2 2.4 M288.8 595 l-2.2 2.4" stroke="#000" stroke-width="1.1" fill="none"/>
<text x="356.5" y="592.8" font-size="8.2" text-anchor="middle" fill="#000" font-weight="bold" stroke="#000" stroke-width="0.3" textLength="14.6" lengthAdjust="spacingAndGlyphs">3PG</text>
<text x="356.5" y="610.2" font-size="8.2" text-anchor="middle" fill="#000" font-weight="bold" stroke="#000" stroke-width="0.3" textLength="13.2" lengthAdjust="spacingAndGlyphs">PEP</text>
<line x1="356.8" y1="595" x2="356.8" y2="603" stroke="#000" stroke-width="1.1"/>
<path d="M356.8 603 l2.2 -2.4 M356.8 603 l-2.2 -2.4 M356.8 595 l2.2 2.4 M356.8 595 l-2.2 2.4" stroke="#000" stroke-width="1.1" fill="none"/>
<text x="425" y="592.8" font-size="8.2" text-anchor="middle" fill="#000" font-weight="bold" stroke="#000" stroke-width="0.3" textLength="13.2" lengthAdjust="spacingAndGlyphs">PEP</text>
<text x="425" y="610.2" font-size="8.2" text-anchor="middle" fill="#000" font-weight="bold" stroke="#000" stroke-width="0.3" textLength="11.6" lengthAdjust="spacingAndGlyphs">Pyr</text>
<line x1="425.3" y1="595" x2="425.3" y2="603" stroke="#000" stroke-width="1.1"/>
<path d="M425.3 603 l2.2 -2.4 M425.3 603 l-2.2 -2.4 M425.3 595 l2.2 2.4 M425.3 595 l-2.2 2.4" stroke="#000" stroke-width="1.1" fill="none"/>
<text x="492.3" y="594.2" font-size="8.2" text-anchor="middle" fill="#000" font-weight="bold" stroke="#000" stroke-width="0.3" textLength="11.6" lengthAdjust="spacingAndGlyphs">Pyr</text>
<text x="492.3" y="611.6" font-size="8.2" text-anchor="middle" fill="#000" font-weight="bold" stroke="#000" stroke-width="0.3" textLength="11.6" lengthAdjust="spacingAndGlyphs">Lac</text>
<line x1="492.6" y1="596.4" x2="492.6" y2="604.4" stroke="#000" stroke-width="1.1"/>
<path d="M492.6 604.4 l2.2 -2.4 M492.6 604.4 l-2.2 -2.4 M492.6 596.4 l2.2 2.4 M492.6 596.4 l-2.2 2.4" stroke="#000" stroke-width="1.1" fill="none"/>
</g>
<g id="panel-e">
<text x="6.8" y="658.5" font-size="11.5" text-anchor="start" fill="#000" font-weight="bold" stroke="#000" stroke-width="0.3" textLength="6.4" lengthAdjust="spacingAndGlyphs">e</text>
<text x="102.8" y="660.3" font-size="10.6" text-anchor="middle" fill="#000" font-weight="bold" stroke="#000" stroke-width="0.3" textLength="69.5" lengthAdjust="spacingAndGlyphs">Pyruvate (M+2)</text>
<rect x="60" y="731" width="12.6" height="55" fill="#1a1a1a" stroke="#000" stroke-width="1.5"/>
<rect x="84.5" y="743.5" width="12.3" height="42.5" fill="#a00000" stroke="#000" stroke-width="1.5"/>
<rect x="108.7" y="759.2" width="12.4" height="26.8" fill="#a6a6ae" stroke="#000" stroke-width="1.5"/>
<rect x="132.5" y="694.7" width="12.6" height="91.3" fill="#ff9e9e" stroke="#000" stroke-width="1.5"/>
<line x1="52" y1="673.7" x2="52" y2="786.6" stroke="#000" stroke-width="1.4"/>
<line x1="47.6" y1="786" x2="152.5" y2="786" stroke="#000" stroke-width="1.4"/>
<line x1="66.3" y1="786" x2="66.3" y2="789.6" stroke="#000" stroke-width="1.1"/>
<line x1="90.5" y1="786" x2="90.5" y2="789.6" stroke="#000" stroke-width="1.1"/>
<line x1="114.5" y1="786" x2="114.5" y2="789.6" stroke="#000" stroke-width="1.1"/>
<line x1="138" y1="786" x2="138" y2="789.6" stroke="#000" stroke-width="1.1"/>
<line x1="48" y1="674.5" x2="52" y2="674.5" stroke="#000" stroke-width="1.2"/>
<text x="47" y="677.3" font-size="7.6" text-anchor="end" fill="#000" font-weight="bold" stroke="#000" stroke-width="0.3" textLength="10.8" lengthAdjust="spacingAndGlyphs">2.0</text>
<line x1="48" y1="702.3" x2="52" y2="702.3" stroke="#000" stroke-width="1.2"/>
<text x="47" y="705.1" font-size="7.6" text-anchor="end" fill="#000" font-weight="bold" stroke="#000" stroke-width="0.3" textLength="10.8" lengthAdjust="spacingAndGlyphs">1.5</text>
<line x1="48" y1="730.3" x2="52" y2="730.3" stroke="#000" stroke-width="1.2"/>
<text x="47" y="733.1" font-size="7.6" text-anchor="end" fill="#000" font-weight="bold" stroke="#000" stroke-width="0.3" textLength="10.8" lengthAdjust="spacingAndGlyphs">1.0</text>
<line x1="48" y1="758" x2="52" y2="758" stroke="#000" stroke-width="1.2"/>
<text x="47" y="760.8" font-size="7.6" text-anchor="end" fill="#000" font-weight="bold" stroke="#000" stroke-width="0.3" textLength="10.8" lengthAdjust="spacingAndGlyphs">0.5</text>
<line x1="48" y1="786" x2="52" y2="786" stroke="#000" stroke-width="1.2"/>
<text x="47" y="788.8" font-size="7.6" text-anchor="end" fill="#000" font-weight="bold" stroke="#000" stroke-width="0.3" textLength="10.8" lengthAdjust="spacingAndGlyphs">0.0</text>
<text x="32.8" y="730.5" font-size="8.9" text-anchor="middle" fill="#000" font-weight="bold" stroke="#000" stroke-width="0.3" textLength="85" lengthAdjust="spacingAndGlyphs" transform="rotate(-90 32.8 730.5)">Relative abundance</text>
<line x1="66.3" y1="725.5" x2="66.3" y2="735" stroke="#000" stroke-width="0.9"/>
<line x1="63.1" y1="725.5" x2="69.5" y2="725.5" stroke="#000" stroke-width="0.9"/>
<line x1="63.1" y1="735" x2="69.5" y2="735" stroke="#000" stroke-width="0.9"/>
<line x1="90.6" y1="736.5" x2="90.6" y2="749" stroke="#000" stroke-width="0.9"/>
<line x1="87.4" y1="736.5" x2="93.8" y2="736.5" stroke="#000" stroke-width="0.9"/>
<line x1="87.4" y1="749" x2="93.8" y2="749" stroke="#000" stroke-width="0.9"/>
<line x1="114.8" y1="755" x2="114.8" y2="762" stroke="#000" stroke-width="0.9"/>
<line x1="111.6" y1="755" x2="118" y2="755" stroke="#000" stroke-width="0.9"/>
<line x1="111.6" y1="762" x2="118" y2="762" stroke="#000" stroke-width="0.9"/>
<line x1="138.8" y1="691.5" x2="138.8" y2="696.5" stroke="#000" stroke-width="0.9"/>
<line x1="135.6" y1="691.5" x2="142" y2="691.5" stroke="#000" stroke-width="0.9"/>
<line x1="135.6" y1="696.5" x2="142" y2="696.5" stroke="#000" stroke-width="0.9"/>
<circle cx="66.3" cy="721.5" r="2.05" fill="#fff" stroke="#000" stroke-width="1.2"/>
<circle cx="66" cy="732" r="2.05" fill="#fff" stroke="#000" stroke-width="1.2"/>
<circle cx="66.3" cy="737.5" r="2.05" fill="#fff" stroke="#000" stroke-width="1.2"/>
<circle cx="90.5" cy="730.5" r="2.05" fill="#fff" stroke="#000" stroke-width="1.2"/>
<circle cx="85.8" cy="750" r="2.05" fill="#fff" stroke="#000" stroke-width="1.2"/>
<circle cx="95.5" cy="747.8" r="2.05" fill="#fff" stroke="#000" stroke-width="1.2"/>
<circle cx="110" cy="755.8" r="2.05" fill="#fff" stroke="#000" stroke-width="1.2"/>
<circle cx="119.5" cy="756.3" r="2.05" fill="#fff" stroke="#000" stroke-width="1.2"/>
<circle cx="114.5" cy="764.3" r="2.05" fill="#fff" stroke="#000" stroke-width="1.2"/>
<circle cx="143.3" cy="689.3" r="2.05" fill="#fff" stroke="#000" stroke-width="1.2"/>
<circle cx="136.3" cy="693.5" r="2.05" fill="#fff" stroke="#000" stroke-width="1.2"/>
<circle cx="138.5" cy="699" r="2.05" fill="#fff" stroke="#000" stroke-width="1.2"/>
<text x="18.8" y="799.6" font-size="8.8" text-anchor="start" fill="#000" font-weight="bold" stroke="#000" stroke-width="0.3" textLength="26.6" lengthAdjust="spacingAndGlyphs">sgCdh1</text>
<text x="66.3" y="798.2" font-size="8.5" text-anchor="middle" fill="#000">-</text>
<text x="90.5" y="798.2" font-size="8.5" text-anchor="middle" fill="#000">+</text>
<text x="114.5" y="798.2" font-size="8.5" text-anchor="middle" fill="#000">-</text>
<text x="138" y="798.2" font-size="8.5" text-anchor="middle" fill="#000">+</text>
<line x1="63.8" y1="805" x2="93.8" y2="805" stroke="#000" stroke-width="1.5"/>
<line x1="111.3" y1="805" x2="141.8" y2="805" stroke="#000" stroke-width="1.5"/>
<text x="78.8" y="817.3" font-size="8.6" text-anchor="middle" fill="#000" font-weight="bold" stroke="#000" stroke-width="0.3" textLength="4.3" lengthAdjust="spacingAndGlyphs">P</text>
<text x="127.5" y="817.3" font-size="8.6" text-anchor="middle" fill="#000" font-weight="bold" stroke="#000" stroke-width="0.3" textLength="5.8" lengthAdjust="spacingAndGlyphs">Q</text>
<text x="88" y="669.9" font-size="6.6" textLength="28.2" lengthAdjust="spacingAndGlyphs"><tspan font-style="italic">P</tspan>=0.0024</text>
<line x1="66.3" y1="674.8" x2="138" y2="674.8" stroke="#000" stroke-width="1.3"/>
<text x="111.3" y="683.2" font-size="6.6" textLength="28.2" lengthAdjust="spacingAndGlyphs"><tspan font-style="italic">P</tspan>=0.0001</text>
<line x1="112.5" y1="687.3" x2="138.3" y2="687.3" stroke="#000" stroke-width="1.3"/>
<text x="75.8" y="690.7" font-size="6.6" textLength="28.2" lengthAdjust="spacingAndGlyphs"><tspan font-style="italic">P</tspan>=0.0075</text>
<line x1="65.5" y1="695.5" x2="113.8" y2="695.5" stroke="#000" stroke-width="1.3"/>
<text x="78" y="703" font-size="6.8" text-anchor="middle" fill="#000">ns</text>
<line x1="65.5" y1="707.8" x2="90.8" y2="707.8" stroke="#000" stroke-width="1.3"/>
</g><g id="panel-f">
<text x="179.8" y="658.5" font-size="11.5" text-anchor="start" fill="#000" font-weight="bold" stroke="#000" stroke-width="0.3" textLength="4.2" lengthAdjust="spacingAndGlyphs">f</text>
<text x="275.6" y="662.6" font-size="10.6" text-anchor="middle" fill="#000" font-weight="bold" stroke="#000" stroke-width="0.3" textLength="61.3" lengthAdjust="spacingAndGlyphs">Lactate (M+2)</text>
<rect x="233.2" y="744.7" width="12.4" height="43.8" fill="#1a1a1a" stroke="#000" stroke-width="1.5"/>
<rect x="257.5" y="746" width="12.3" height="42.5" fill="#a00000" stroke="#000" stroke-width="1.5"/>
<rect x="281.5" y="775" width="12.3" height="13.5" fill="#a6a6ae" stroke="#000" stroke-width="1.5"/>
<rect x="305.7" y="708.5" width="12.4" height="80" fill="#ff9e9e" stroke="#000" stroke-width="1.5"/>
<line x1="225" y1="675.9" x2="225" y2="789.1" stroke="#000" stroke-width="1.4"/>
<line x1="220.5" y1="788.5" x2="326.3" y2="788.5" stroke="#000" stroke-width="1.4"/>
<line x1="239.5" y1="788.5" x2="239.5" y2="792.1" stroke="#000" stroke-width="1.1"/>
<line x1="263.3" y1="788.5" x2="263.3" y2="792.1" stroke="#000" stroke-width="1.1"/>
<line x1="287.5" y1="788.5" x2="287.5" y2="792.1" stroke="#000" stroke-width="1.1"/>
<line x1="311.8" y1="788.5" x2="311.8" y2="792.1" stroke="#000" stroke-width="1.1"/>
<line x1="221" y1="677" x2="225" y2="677" stroke="#000" stroke-width="1.2"/>
<text x="220" y="679.8" font-size="7.6" text-anchor="end" fill="#000" font-weight="bold" stroke="#000" stroke-width="0.3" textLength="10.8" lengthAdjust="spacingAndGlyphs">2.5</text>
<line x1="221" y1="699.3" x2="225" y2="699.3" stroke="#000" stroke-width="1.2"/>
<text x="220" y="702.1" font-size="7.6" text-anchor="end" fill="#000" font-weight="bold" stroke="#000" stroke-width="0.3" textLength="10.8" lengthAdjust="spacingAndGlyphs">2.0</text>
<line x1="221" y1="721.5" x2="225" y2="721.5" stroke="#000" stroke-width="1.2"/>
<text x="220" y="724.3" font-size="7.6" text-anchor="end" fill="#000" font-weight="bold" stroke="#000" stroke-width="0.3" textLength="10.8" lengthAdjust="spacingAndGlyphs">1.5</text>
<line x1="221" y1="744" x2="225" y2="744" stroke="#000" stroke-width="1.2"/>
<text x="220" y="746.8" font-size="7.6" text-anchor="end" fill="#000" font-weight="bold" stroke="#000" stroke-width="0.3" textLength="10.8" lengthAdjust="spacingAndGlyphs">1.0</text>
<line x1="221" y1="766.3" x2="225" y2="766.3" stroke="#000" stroke-width="1.2"/>
<text x="220" y="769.1" font-size="7.6" text-anchor="end" fill="#000" font-weight="bold" stroke="#000" stroke-width="0.3" textLength="10.8" lengthAdjust="spacingAndGlyphs">0.5</text>
<line x1="221" y1="788.5" x2="225" y2="788.5" stroke="#000" stroke-width="1.2"/>
<text x="220" y="791.3" font-size="7.6" text-anchor="end" fill="#000" font-weight="bold" stroke="#000" stroke-width="0.3" textLength="10.8" lengthAdjust="spacingAndGlyphs">0.0</text>
<text x="206" y="732.5" font-size="8.9" text-anchor="middle" fill="#000" font-weight="bold" stroke="#000" stroke-width="0.3" textLength="84.3" lengthAdjust="spacingAndGlyphs" transform="rotate(-90 206 732.5)">Relative abundance</text>
<line x1="239.5" y1="737.5" x2="239.5" y2="750" stroke="#000" stroke-width="0.9"/>
<line x1="236.3" y1="737.5" x2="242.7" y2="737.5" stroke="#000" stroke-width="0.9"/>
<line x1="236.3" y1="750" x2="242.7" y2="750" stroke="#000" stroke-width="0.9"/>
<line x1="263.7" y1="738" x2="263.7" y2="752" stroke="#000" stroke-width="0.9"/>
<line x1="260.5" y1="738" x2="266.9" y2="738" stroke="#000" stroke-width="0.9"/>
<line x1="260.5" y1="752" x2="266.9" y2="752" stroke="#000" stroke-width="0.9"/>
<line x1="287.6" y1="765.5" x2="287.6" y2="783" stroke="#000" stroke-width="0.9"/>
<line x1="284.4" y1="765.5" x2="290.8" y2="765.5" stroke="#000" stroke-width="0.9"/>
<line x1="284.4" y1="783" x2="290.8" y2="783" stroke="#000" stroke-width="0.9"/>
<line x1="311.9" y1="692.5" x2="311.9" y2="723" stroke="#000" stroke-width="0.9"/>
<line x1="308.7" y1="692.5" x2="315.1" y2="692.5" stroke="#000" stroke-width="0.9"/>
<line x1="308.7" y1="723" x2="315.1" y2="723" stroke="#000" stroke-width="0.9"/>
<circle cx="234.5" cy="739.5" r="2.05" fill="#fff" stroke="#000" stroke-width="1.2"/>
<circle cx="244.3" cy="740" r="2.05" fill="#fff" stroke="#000" stroke-width="1.2"/>
<circle cx="239.5" cy="751.5" r="2.05" fill="#fff" stroke="#000" stroke-width="1.2"/>
<circle cx="263.5" cy="737" r="2.05" fill="#fff" stroke="#000" stroke-width="1.2"/>
<circle cx="268.3" cy="746.3" r="2.05" fill="#fff" stroke="#000" stroke-width="1.2"/>
<circle cx="258.8" cy="751" r="2.05" fill="#fff" stroke="#000" stroke-width="1.2"/>
<circle cx="292.5" cy="767.5" r="2.05" fill="#fff" stroke="#000" stroke-width="1.2"/>
<circle cx="287.3" cy="771.5" r="2.05" fill="#fff" stroke="#000" stroke-width="1.2"/>
<circle cx="287.5" cy="783.3" r="2.05" fill="#fff" stroke="#000" stroke-width="1.2"/>
<circle cx="311.5" cy="695" r="2.05" fill="#fff" stroke="#000" stroke-width="1.2"/>
<circle cx="311.8" cy="702.5" r="2.05" fill="#fff" stroke="#000" stroke-width="1.2"/>
<circle cx="311.5" cy="724.3" r="2.05" fill="#fff" stroke="#000" stroke-width="1.2"/>
<text x="195.5" y="802.8" font-size="8.8" text-anchor="start" fill="#000" font-weight="bold" stroke="#000" stroke-width="0.3" textLength="26.6" lengthAdjust="spacingAndGlyphs">sgCdh1</text>
<text x="239.5" y="801" font-size="8.5" text-anchor="middle" fill="#000">-</text>
<text x="263.3" y="801" font-size="8.5" text-anchor="middle" fill="#000">+</text>
<text x="287.5" y="801" font-size="8.5" text-anchor="middle" fill="#000">-</text>
<text x="311.8" y="801" font-size="8.5" text-anchor="middle" fill="#000">+</text>
<line x1="236.3" y1="807.3" x2="266.8" y2="807.3" stroke="#000" stroke-width="1.5"/>
<line x1="284.3" y1="807.3" x2="315" y2="807.3" stroke="#000" stroke-width="1.5"/>
<text x="252" y="819.8" font-size="8.6" text-anchor="middle" fill="#000" font-weight="bold" stroke="#000" stroke-width="0.3" textLength="4.3" lengthAdjust="spacingAndGlyphs">P</text>
<text x="300" y="819.8" font-size="8.6" text-anchor="middle" fill="#000" font-weight="bold" stroke="#000" stroke-width="0.3" textLength="5.8" lengthAdjust="spacingAndGlyphs">Q</text>
<text x="260.5" y="673.7" font-size="6.6" textLength="28.2" lengthAdjust="spacingAndGlyphs"><tspan font-style="italic">P</tspan>=0.0178</text>
<line x1="238.8" y1="678.5" x2="311.3" y2="678.5" stroke="#000" stroke-width="1.3"/>
<text x="283.8" y="685" font-size="6.6" textLength="28.2" lengthAdjust="spacingAndGlyphs"><tspan font-style="italic">P</tspan>=0.0024</text>
<line x1="285" y1="689.8" x2="311.3" y2="689.8" stroke="#000" stroke-width="1.3"/>
<text x="248.8" y="694" font-size="6.6" textLength="28.2" lengthAdjust="spacingAndGlyphs"><tspan font-style="italic">P</tspan>=0.0080</text>
<line x1="238.8" y1="698.5" x2="286.8" y2="698.5" stroke="#000" stroke-width="1.3"/>
<text x="250.8" y="705" font-size="6.8" text-anchor="middle" fill="#000">ns</text>
<line x1="238.8" y1="710.3" x2="263.8" y2="710.3" stroke="#000" stroke-width="1.3"/>
</g>
</svg>
</body></html>
